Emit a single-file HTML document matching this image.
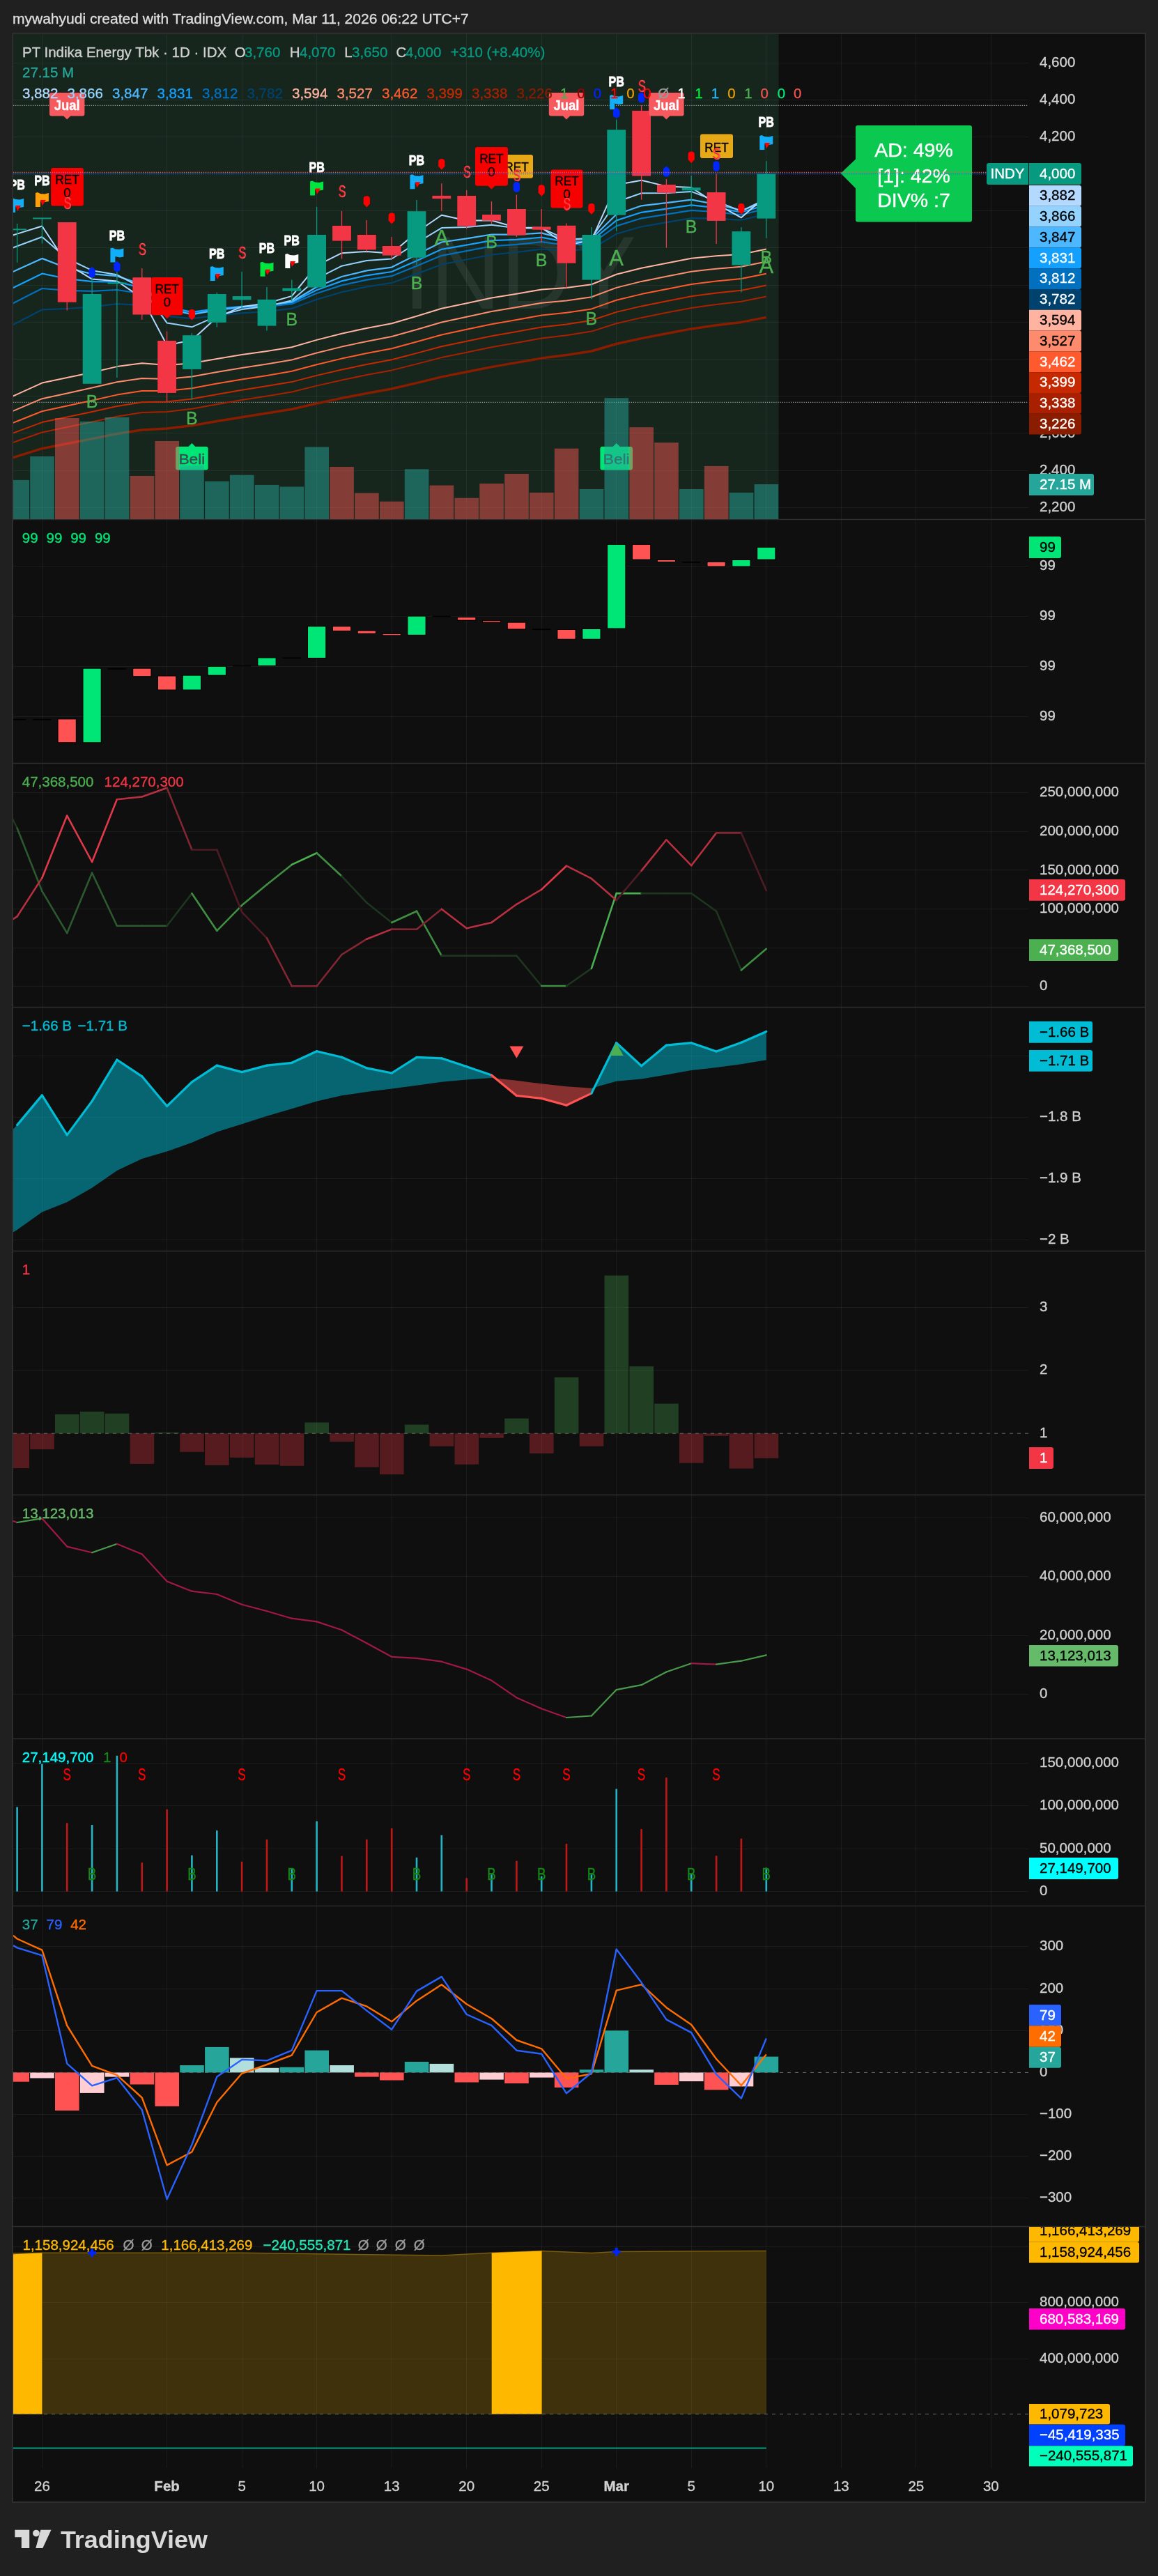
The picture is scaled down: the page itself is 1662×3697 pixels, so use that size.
<!DOCTYPE html>
<html><head><meta charset="utf-8"><style>html,body{margin:0;padding:0;background:#202020;width:1662px;height:3697px;overflow:hidden}</style></head>
<body><svg width="1662" height="3697" viewBox="0 0 1662 3697" style="position:absolute;left:0;top:0;will-change:transform" font-family='"Liberation Sans", sans-serif'><rect x="0.0" y="0.0" width="1662.0" height="3697.0" fill="#202020" />
<rect x="17.0" y="47.0" width="1628.0" height="3545.0" fill="#2e2e2e" />
<rect x="19.0" y="49.0" width="1624.0" height="3541.0" fill="#0f0f0f" />
<rect x="19.0" y="49.0" width="1098.7" height="696.0" fill="#16261d" />
<line x1="60.5" y1="49.0" x2="60.5" y2="3542.0" stroke="#ffffff" stroke-opacity="0.055" stroke-width="1" />
<line x1="239.5" y1="49.0" x2="239.5" y2="3542.0" stroke="#ffffff" stroke-opacity="0.055" stroke-width="1" />
<line x1="347.5" y1="49.0" x2="347.5" y2="3542.0" stroke="#ffffff" stroke-opacity="0.055" stroke-width="1" />
<line x1="454.5" y1="49.0" x2="454.5" y2="3542.0" stroke="#ffffff" stroke-opacity="0.055" stroke-width="1" />
<line x1="562.5" y1="49.0" x2="562.5" y2="3542.0" stroke="#ffffff" stroke-opacity="0.055" stroke-width="1" />
<line x1="669.5" y1="49.0" x2="669.5" y2="3542.0" stroke="#ffffff" stroke-opacity="0.055" stroke-width="1" />
<line x1="777.5" y1="49.0" x2="777.5" y2="3542.0" stroke="#ffffff" stroke-opacity="0.055" stroke-width="1" />
<line x1="884.5" y1="49.0" x2="884.5" y2="3542.0" stroke="#ffffff" stroke-opacity="0.055" stroke-width="1" />
<line x1="992.5" y1="49.0" x2="992.5" y2="3542.0" stroke="#ffffff" stroke-opacity="0.055" stroke-width="1" />
<line x1="1099.5" y1="49.0" x2="1099.5" y2="3542.0" stroke="#ffffff" stroke-opacity="0.055" stroke-width="1" />
<line x1="1207.5" y1="49.0" x2="1207.5" y2="3542.0" stroke="#ffffff" stroke-opacity="0.055" stroke-width="1" />
<line x1="1314.5" y1="49.0" x2="1314.5" y2="3542.0" stroke="#ffffff" stroke-opacity="0.055" stroke-width="1" />
<line x1="1422.5" y1="49.0" x2="1422.5" y2="3542.0" stroke="#ffffff" stroke-opacity="0.055" stroke-width="1" />
<line x1="19.0" y1="90.5" x2="1476.0" y2="90.5" stroke="#ffffff" stroke-opacity="0.055" stroke-width="1" />
<line x1="19.0" y1="143.5" x2="1476.0" y2="143.5" stroke="#ffffff" stroke-opacity="0.055" stroke-width="1" />
<line x1="19.0" y1="196.5" x2="1476.0" y2="196.5" stroke="#ffffff" stroke-opacity="0.055" stroke-width="1" />
<line x1="19.0" y1="249.5" x2="1476.0" y2="249.5" stroke="#ffffff" stroke-opacity="0.055" stroke-width="1" />
<line x1="19.0" y1="302.5" x2="1476.0" y2="302.5" stroke="#ffffff" stroke-opacity="0.055" stroke-width="1" />
<line x1="19.0" y1="355.5" x2="1476.0" y2="355.5" stroke="#ffffff" stroke-opacity="0.055" stroke-width="1" />
<line x1="19.0" y1="409.5" x2="1476.0" y2="409.5" stroke="#ffffff" stroke-opacity="0.055" stroke-width="1" />
<line x1="19.0" y1="462.5" x2="1476.0" y2="462.5" stroke="#ffffff" stroke-opacity="0.055" stroke-width="1" />
<line x1="19.0" y1="515.5" x2="1476.0" y2="515.5" stroke="#ffffff" stroke-opacity="0.055" stroke-width="1" />
<line x1="19.0" y1="568.5" x2="1476.0" y2="568.5" stroke="#ffffff" stroke-opacity="0.055" stroke-width="1" />
<line x1="19.0" y1="621.5" x2="1476.0" y2="621.5" stroke="#ffffff" stroke-opacity="0.055" stroke-width="1" />
<line x1="19.0" y1="675.5" x2="1476.0" y2="675.5" stroke="#ffffff" stroke-opacity="0.055" stroke-width="1" />
<line x1="19.0" y1="728.5" x2="1476.0" y2="728.5" stroke="#ffffff" stroke-opacity="0.055" stroke-width="1" />
<line x1="19.0" y1="812.5" x2="1476.0" y2="812.5" stroke="#ffffff" stroke-opacity="0.055" stroke-width="1" />
<line x1="19.0" y1="884.5" x2="1476.0" y2="884.5" stroke="#ffffff" stroke-opacity="0.055" stroke-width="1" />
<line x1="19.0" y1="956.5" x2="1476.0" y2="956.5" stroke="#ffffff" stroke-opacity="0.055" stroke-width="1" />
<line x1="19.0" y1="1028.5" x2="1476.0" y2="1028.5" stroke="#ffffff" stroke-opacity="0.055" stroke-width="1" />
<line x1="19.0" y1="1137.5" x2="1476.0" y2="1137.5" stroke="#ffffff" stroke-opacity="0.055" stroke-width="1" />
<line x1="19.0" y1="1193.5" x2="1476.0" y2="1193.5" stroke="#ffffff" stroke-opacity="0.055" stroke-width="1" />
<line x1="19.0" y1="1248.5" x2="1476.0" y2="1248.5" stroke="#ffffff" stroke-opacity="0.055" stroke-width="1" />
<line x1="19.0" y1="1304.5" x2="1476.0" y2="1304.5" stroke="#ffffff" stroke-opacity="0.055" stroke-width="1" />
<line x1="19.0" y1="1360.5" x2="1476.0" y2="1360.5" stroke="#ffffff" stroke-opacity="0.055" stroke-width="1" />
<line x1="19.0" y1="1415.5" x2="1476.0" y2="1415.5" stroke="#ffffff" stroke-opacity="0.055" stroke-width="1" />
<line x1="19.0" y1="1515.5" x2="1476.0" y2="1515.5" stroke="#ffffff" stroke-opacity="0.055" stroke-width="1" />
<line x1="19.0" y1="1603.5" x2="1476.0" y2="1603.5" stroke="#ffffff" stroke-opacity="0.055" stroke-width="1" />
<line x1="19.0" y1="1691.5" x2="1476.0" y2="1691.5" stroke="#ffffff" stroke-opacity="0.055" stroke-width="1" />
<line x1="19.0" y1="1779.5" x2="1476.0" y2="1779.5" stroke="#ffffff" stroke-opacity="0.055" stroke-width="1" />
<line x1="19.0" y1="1876.5" x2="1476.0" y2="1876.5" stroke="#ffffff" stroke-opacity="0.055" stroke-width="1" />
<line x1="19.0" y1="1966.5" x2="1476.0" y2="1966.5" stroke="#ffffff" stroke-opacity="0.055" stroke-width="1" />
<line x1="19.0" y1="2178.5" x2="1476.0" y2="2178.5" stroke="#ffffff" stroke-opacity="0.055" stroke-width="1" />
<line x1="19.0" y1="2262.5" x2="1476.0" y2="2262.5" stroke="#ffffff" stroke-opacity="0.055" stroke-width="1" />
<line x1="19.0" y1="2347.5" x2="1476.0" y2="2347.5" stroke="#ffffff" stroke-opacity="0.055" stroke-width="1" />
<line x1="19.0" y1="2431.5" x2="1476.0" y2="2431.5" stroke="#ffffff" stroke-opacity="0.055" stroke-width="1" />
<line x1="19.0" y1="2530.5" x2="1476.0" y2="2530.5" stroke="#ffffff" stroke-opacity="0.055" stroke-width="1" />
<line x1="19.0" y1="2591.5" x2="1476.0" y2="2591.5" stroke="#ffffff" stroke-opacity="0.055" stroke-width="1" />
<line x1="19.0" y1="2653.5" x2="1476.0" y2="2653.5" stroke="#ffffff" stroke-opacity="0.055" stroke-width="1" />
<line x1="19.0" y1="2714.5" x2="1476.0" y2="2714.5" stroke="#ffffff" stroke-opacity="0.055" stroke-width="1" />
<line x1="19.0" y1="2793.5" x2="1476.0" y2="2793.5" stroke="#ffffff" stroke-opacity="0.055" stroke-width="1" />
<line x1="19.0" y1="2854.5" x2="1476.0" y2="2854.5" stroke="#ffffff" stroke-opacity="0.055" stroke-width="1" />
<line x1="19.0" y1="2914.5" x2="1476.0" y2="2914.5" stroke="#ffffff" stroke-opacity="0.055" stroke-width="1" />
<line x1="19.0" y1="3034.5" x2="1476.0" y2="3034.5" stroke="#ffffff" stroke-opacity="0.055" stroke-width="1" />
<line x1="19.0" y1="3094.5" x2="1476.0" y2="3094.5" stroke="#ffffff" stroke-opacity="0.055" stroke-width="1" />
<line x1="19.0" y1="3154.5" x2="1476.0" y2="3154.5" stroke="#ffffff" stroke-opacity="0.055" stroke-width="1" />
<line x1="19.0" y1="3224.5" x2="1476.0" y2="3224.5" stroke="#ffffff" stroke-opacity="0.055" stroke-width="1" />
<line x1="19.0" y1="3304.5" x2="1476.0" y2="3304.5" stroke="#ffffff" stroke-opacity="0.055" stroke-width="1" />
<line x1="19.0" y1="3385.5" x2="1476.0" y2="3385.5" stroke="#ffffff" stroke-opacity="0.055" stroke-width="1" />
<line x1="19.0" y1="745.5" x2="1643.0" y2="745.5" stroke="#2e2e2e" stroke-width="1.3" />
<line x1="19.0" y1="1095.5" x2="1643.0" y2="1095.5" stroke="#2e2e2e" stroke-width="1.3" />
<line x1="19.0" y1="1445.5" x2="1643.0" y2="1445.5" stroke="#2e2e2e" stroke-width="1.3" />
<line x1="19.0" y1="1795.5" x2="1643.0" y2="1795.5" stroke="#2e2e2e" stroke-width="1.3" />
<line x1="19.0" y1="2145.5" x2="1643.0" y2="2145.5" stroke="#2e2e2e" stroke-width="1.3" />
<line x1="19.0" y1="2495.5" x2="1643.0" y2="2495.5" stroke="#2e2e2e" stroke-width="1.3" />
<line x1="19.0" y1="2735.3" x2="1643.0" y2="2735.3" stroke="#2e2e2e" stroke-width="1.3" />
<line x1="19.0" y1="3195.5" x2="1643.0" y2="3195.5" stroke="#2e2e2e" stroke-width="1.3" />
<text x="18.0" y="33.7" fill="#dedede" font-size="21" text-anchor="start" font-weight="normal" stroke="#dedede" stroke-width="0.35" >mywahyudi created with TradingView.com, Mar 11, 2026 06:22 UTC+7</text>
<defs><clipPath id="cmain"><rect x="19" y="49" width="1457" height="696"/></clipPath></defs>
<g clip-path="url(#cmain)">
<text x="579" y="442.8" fill="#ffffff" fill-opacity="0.075" font-size="148" textLength="334" lengthAdjust="spacingAndGlyphs">INDY</text>
<line x1="19.0" y1="151.4" x2="1476.0" y2="151.4" stroke="#9a9a9a" stroke-width="1.3" stroke-dasharray="1.3 1.8"/>
<line x1="19.0" y1="577.4" x2="1476.0" y2="577.4" stroke="#9a9a9a" stroke-width="1.3" stroke-dasharray="1.3 1.8"/>
<polyline points="-11.3,666.1 24.6,654.9 60.4,643.7 96.2,636.8 132.1,629.8 167.9,622.5 203.8,616.9 239.6,615.1 275.4,610.7 311.3,604.5 347.1,598.7 383.0,593.1 418.8,587.3 454.6,579.1 490.5,571.4 526.3,564.5 562.2,558.0 598.0,549.6 633.8,540.9 669.7,533.8 705.5,526.6 741.4,520.4 777.2,514.1 813.0,509.6 848.9,504.0 884.7,493.5 920.6,485.6 956.4,478.7 992.2,471.9 1028.1,466.8 1063.9,462.4 1099.8,455.4" fill="none" stroke="#8a1c00" stroke-width="3.5" stroke-linejoin="round" />
<polyline points="-11.3,645.5 24.6,633.0 60.4,620.5 96.2,613.1 132.1,605.6 167.9,597.8 203.8,592.1 239.6,591.0 275.4,586.7 311.3,580.2 347.1,574.1 383.0,568.5 418.8,562.5 454.6,553.6 490.5,545.5 526.3,538.1 562.2,531.4 598.0,522.4 633.8,513.1 669.7,505.7 705.5,498.2 741.4,491.9 777.2,485.5 813.0,481.2 848.9,475.6 884.7,464.2 920.6,455.9 956.4,448.8 992.2,441.9 1028.1,436.9 1063.9,432.8 1099.8,425.6" fill="none" stroke="#a82000" stroke-width="2" stroke-linejoin="round" />
<polyline points="-11.3,632.7 24.6,619.4 60.4,606.1 96.2,598.5 132.1,590.9 167.9,582.9 203.8,577.2 239.6,576.6 275.4,572.4 311.3,565.9 347.1,559.8 383.0,554.1 418.8,548.1 454.6,538.9 490.5,530.5 526.3,523.0 562.2,516.2 598.0,506.9 633.8,497.2 669.7,489.7 705.5,482.2 741.4,475.9 777.2,469.4 813.0,465.4 848.9,459.8 884.7,447.9 920.6,439.4 956.4,432.3 992.2,425.3 1028.1,420.5 1063.9,416.7 1099.8,409.4" fill="none" stroke="#c62800" stroke-width="2" stroke-linejoin="round" />
<polyline points="-11.3,618.6 24.6,604.5 60.4,590.3 96.2,582.6 132.1,574.8 167.9,566.6 203.8,561.0 239.6,561.1 275.4,557.2 311.3,550.6 347.1,544.5 383.0,538.9 418.8,532.8 454.6,523.3 490.5,514.6 526.3,507.0 562.2,500.2 598.0,490.5 633.8,480.5 669.7,472.8 705.5,465.2 741.4,458.9 777.2,452.5 813.0,448.8 848.9,443.4 884.7,430.8 920.6,422.1 956.4,415.0 992.2,408.0 1028.1,403.5 1063.9,400.0 1099.8,392.7" fill="none" stroke="#ff5a2e" stroke-width="2" stroke-linejoin="round" />
<polyline points="-11.3,602.6 24.6,587.4 60.4,572.2 96.2,564.5 132.1,556.6 167.9,548.2 203.8,542.9 239.6,544.0 275.4,540.5 311.3,534.0 347.1,527.9 383.0,522.5 418.8,516.5 454.6,506.5 490.5,497.6 526.3,489.9 562.2,483.0 598.0,473.0 633.8,462.5 669.7,454.8 705.5,447.1 741.4,441.0 777.2,434.7 813.0,431.5 848.9,426.2 884.7,412.9 920.6,403.9 956.4,396.8 992.2,389.8 1028.1,385.7 1063.9,382.8 1099.8,375.4" fill="none" stroke="#ff8b6e" stroke-width="2" stroke-linejoin="round" />
<polyline points="-11.3,582.2 24.6,565.9 60.4,549.6 96.2,542.1 132.1,534.4 167.9,526.1 203.8,521.3 239.6,524.0 275.4,521.3 311.3,514.9 347.1,509.1 383.0,504.0 418.8,498.2 454.6,487.9 490.5,478.7 526.3,470.9 562.2,464.2 598.0,453.8 633.8,442.8 669.7,435.2 705.5,427.5 741.4,421.7 777.2,415.5 813.0,413.1 848.9,408.2 884.7,393.8 920.6,384.7 956.4,377.7 992.2,370.8 1028.1,367.3 1063.9,365.0 1099.8,357.5" fill="none" stroke="#ffb3a0" stroke-width="2" stroke-linejoin="round" />
<polyline points="-11.3,481.8 24.6,463.1 60.4,444.4 96.2,443.0 132.1,440.4 167.9,436.2 203.8,438.1 239.6,453.8 275.4,457.2 311.3,452.8 347.1,449.4 383.0,447.0 418.8,442.9 454.6,429.7 490.5,419.2 526.3,411.6 562.2,406.0 598.0,393.1 633.8,379.5 669.7,372.5 705.5,365.5 741.4,362.0 777.2,357.5 813.0,360.0 848.9,357.2 884.7,335.7 920.6,325.3 956.4,319.2 992.2,313.1 1028.1,313.5 1063.9,315.8 1099.8,307.5" fill="none" stroke="#00426e" stroke-width="2.2" stroke-linejoin="round" />
<polyline points="-11.3,450.6 24.6,432.3 60.4,414.0 96.2,416.9 132.1,417.8 167.9,416.0 203.8,421.5 239.6,443.4 275.4,449.1 311.3,445.0 347.1,442.0 383.0,440.2 418.8,436.2 454.6,421.0 490.5,409.4 526.3,401.6 562.2,396.2 598.0,381.8 633.8,366.8 669.7,360.2 705.5,353.4 741.4,350.9 777.2,347.2 813.0,351.8 848.9,349.6 884.7,324.4 920.6,313.3 956.4,307.6 992.2,301.9 1028.1,304.1 1063.9,308.4 1099.8,299.3" fill="none" stroke="#0070bf" stroke-width="2.2" stroke-linejoin="round" />
<polyline points="-11.3,427.9 24.6,410.3 60.4,392.7 96.2,400.0 132.1,404.1 167.9,404.5 203.8,413.1 239.6,440.4 275.4,447.8 311.3,443.2 347.1,439.9 383.0,438.2 418.8,433.9 454.6,416.3 490.5,403.4 526.3,395.3 562.2,390.0 598.0,374.2 633.8,357.8 669.7,351.7 705.5,345.2 741.4,343.8 777.2,340.7 813.0,347.3 848.9,345.5 884.7,316.4 920.6,304.8 956.4,299.6 992.2,294.3 1028.1,298.3 1063.9,304.4 1099.8,294.5" fill="none" stroke="#14a0ff" stroke-width="2.2" stroke-linejoin="round" />
<polyline points="-11.3,403.8 24.6,387.3 60.4,370.9 96.2,384.7 132.1,393.1 167.9,396.1 203.8,408.4 239.6,442.9 275.4,451.3 311.3,444.9 347.1,440.5 383.0,438.3 418.8,433.0 454.6,411.7 490.5,397.0 526.3,388.4 562.2,383.6 598.0,365.6 633.8,347.5 669.7,342.3 705.5,336.5 741.4,336.7 777.2,334.4 813.0,344.0 848.9,342.5 884.7,307.7 920.6,295.3 956.4,291.1 992.2,286.6 1028.1,293.1 1063.9,301.8 1099.8,290.2" fill="none" stroke="#4db8ff" stroke-width="2.2" stroke-linejoin="round" />
<polyline points="-11.3,366.6 24.6,353.3 60.4,340.0 96.2,371.0 132.1,388.2 167.9,394.3 203.8,413.4 239.6,463.4 275.4,469.3 311.3,453.6 347.1,444.1 383.0,439.6 418.8,431.2 454.6,399.9 490.5,381.7 526.3,374.0 562.2,371.5 598.0,348.6 633.8,327.1 669.7,326.1 705.5,322.7 741.4,327.6 777.2,327.3 813.0,343.9 848.9,341.7 884.7,289.7 920.6,277.2 956.4,276.9 992.2,274.9 1028.1,288.6 1063.9,303.1 1099.8,285.2" fill="none" stroke="#95d3ff" stroke-width="2" stroke-linejoin="round" />
<polyline points="-11.3,346.7 24.6,335.6 60.4,324.5 96.2,378.8 132.1,400.6 167.9,403.5 203.8,427.6 239.6,495.5 275.4,488.2 311.3,455.3 347.1,440.2 383.0,435.3 418.8,424.9 454.6,381.1 490.5,363.2 526.3,360.9 562.2,363.7 598.0,333.3 633.8,308.7 669.7,316.4 705.5,316.2 741.4,326.8 777.2,326.7 813.0,352.0 848.9,344.7 884.7,265.2 920.6,258.7 956.4,267.4 992.2,269.1 1028.1,292.6 1063.9,312.3 1099.8,280.9" fill="none" stroke="#b3d9ff" stroke-width="2" stroke-linejoin="round" />
<line x1="24.6" y1="321.0" x2="24.6" y2="376.8" stroke="#089981" stroke-width="1.3" />
<rect x="11.2" y="328.3" width="26.8" height="2.0" fill="#089981" />
<line x1="60.4" y1="313.4" x2="60.4" y2="349.5" stroke="#089981" stroke-width="1.3" />
<rect x="47.0" y="312.4" width="26.8" height="2.0" fill="#089981" />
<line x1="96.2" y1="319.0" x2="96.2" y2="445.6" stroke="#f23645" stroke-width="1.3" />
<rect x="82.8" y="319.0" width="26.8" height="114.7" fill="#f23645" />
<line x1="132.1" y1="397.0" x2="132.1" y2="550.8" stroke="#089981" stroke-width="1.3" />
<rect x="118.7" y="422.0" width="26.8" height="128.8" fill="#089981" />
<line x1="167.9" y1="390.0" x2="167.9" y2="542.0" stroke="#089981" stroke-width="1.3" />
<rect x="154.5" y="405.5" width="26.8" height="2.0" fill="#089981" />
<line x1="203.8" y1="385.1" x2="203.8" y2="458.7" stroke="#f23645" stroke-width="1.3" />
<rect x="190.4" y="398.2" width="26.8" height="53.3" fill="#f23645" />
<line x1="239.6" y1="475.5" x2="239.6" y2="576.2" stroke="#f23645" stroke-width="1.3" />
<rect x="226.2" y="489.0" width="26.8" height="74.9" fill="#f23645" />
<line x1="275.4" y1="477.9" x2="275.4" y2="573.8" stroke="#089981" stroke-width="1.3" />
<rect x="262.0" y="481.2" width="26.8" height="48.7" fill="#089981" />
<line x1="311.3" y1="419.7" x2="311.3" y2="469.5" stroke="#089981" stroke-width="1.3" />
<rect x="297.9" y="422.0" width="26.8" height="40.9" fill="#089981" />
<line x1="347.1" y1="390.0" x2="347.1" y2="443.4" stroke="#089981" stroke-width="1.3" />
<rect x="333.7" y="425.1" width="26.8" height="5.3" fill="#089981" />
<line x1="383.0" y1="412.0" x2="383.0" y2="474.4" stroke="#089981" stroke-width="1.3" />
<rect x="369.6" y="429.9" width="26.8" height="37.7" fill="#089981" />
<line x1="418.8" y1="401.4" x2="418.8" y2="432.2" stroke="#089981" stroke-width="1.3" />
<rect x="405.4" y="413.5" width="26.8" height="4.2" fill="#089981" />
<line x1="454.6" y1="296.9" x2="454.6" y2="412.5" stroke="#089981" stroke-width="1.3" />
<rect x="441.2" y="337.0" width="26.8" height="75.5" fill="#089981" />
<line x1="490.5" y1="302.8" x2="490.5" y2="371.5" stroke="#f23645" stroke-width="1.3" />
<rect x="477.1" y="324.0" width="26.8" height="21.6" fill="#f23645" />
<line x1="526.3" y1="315.9" x2="526.3" y2="361.0" stroke="#f23645" stroke-width="1.3" />
<rect x="512.9" y="337.0" width="26.8" height="21.4" fill="#f23645" />
<line x1="562.2" y1="340.0" x2="562.2" y2="372.0" stroke="#f23645" stroke-width="1.3" />
<rect x="548.8" y="353.0" width="26.8" height="13.6" fill="#f23645" />
<line x1="598.0" y1="287.0" x2="598.0" y2="379.9" stroke="#089981" stroke-width="1.3" />
<rect x="584.6" y="303.2" width="26.8" height="66.5" fill="#089981" />
<line x1="633.8" y1="263.3" x2="633.8" y2="302.7" stroke="#f23645" stroke-width="1.3" />
<rect x="620.4" y="280.9" width="26.8" height="4.2" fill="#f23645" />
<line x1="669.7" y1="273.0" x2="669.7" y2="328.6" stroke="#f23645" stroke-width="1.3" />
<rect x="656.3" y="281.0" width="26.8" height="43.5" fill="#f23645" />
<line x1="705.5" y1="289.0" x2="705.5" y2="321.0" stroke="#f23645" stroke-width="1.3" />
<rect x="692.1" y="308.0" width="26.8" height="8.7" fill="#f23645" />
<line x1="741.4" y1="279.4" x2="741.4" y2="340.0" stroke="#f23645" stroke-width="1.3" />
<rect x="728.0" y="300.0" width="26.8" height="37.6" fill="#f23645" />
<line x1="777.2" y1="300.0" x2="777.2" y2="347.6" stroke="#f23645" stroke-width="1.3" />
<rect x="763.8" y="325.5" width="26.8" height="4.2" fill="#f23645" />
<line x1="813.0" y1="320.5" x2="813.0" y2="413.2" stroke="#f23645" stroke-width="1.3" />
<rect x="799.6" y="323.8" width="26.8" height="53.9" fill="#f23645" />
<line x1="848.9" y1="326.0" x2="848.9" y2="429.2" stroke="#089981" stroke-width="1.3" />
<rect x="835.5" y="337.0" width="26.8" height="64.6" fill="#089981" />
<line x1="884.7" y1="171.8" x2="884.7" y2="331.5" stroke="#089981" stroke-width="1.3" />
<rect x="871.3" y="186.2" width="26.8" height="122.4" fill="#089981" />
<line x1="920.6" y1="151.0" x2="920.6" y2="286.5" stroke="#f23645" stroke-width="1.3" />
<rect x="907.2" y="158.9" width="26.8" height="93.6" fill="#f23645" />
<line x1="956.4" y1="257.0" x2="956.4" y2="355.6" stroke="#f23645" stroke-width="1.3" />
<rect x="943.0" y="265.0" width="26.8" height="11.8" fill="#f23645" />
<line x1="992.2" y1="252.0" x2="992.2" y2="296.7" stroke="#089981" stroke-width="1.3" />
<rect x="978.8" y="269.2" width="26.8" height="4.2" fill="#089981" />
<line x1="1028.1" y1="249.2" x2="1028.1" y2="350.0" stroke="#f23645" stroke-width="1.3" />
<rect x="1014.7" y="276.0" width="26.8" height="40.9" fill="#f23645" />
<line x1="1063.9" y1="326.0" x2="1063.9" y2="419.6" stroke="#089981" stroke-width="1.3" />
<rect x="1050.5" y="332.1" width="26.8" height="48.4" fill="#089981" />
<line x1="1099.8" y1="231.3" x2="1099.8" y2="341.8" stroke="#089981" stroke-width="1.3" />
<rect x="1086.4" y="249.2" width="26.8" height="64.4" fill="#089981" />
<text x="132.1" y="585.2" fill="#4caf50" font-size="25" text-anchor="middle" font-weight="normal" stroke="#4caf50" stroke-width="0.35" >B</text>
<text x="275.4" y="609.0" fill="#4caf50" font-size="25" text-anchor="middle" font-weight="normal" stroke="#4caf50" stroke-width="0.35" >B</text>
<text x="418.8" y="467.2" fill="#4caf50" font-size="25" text-anchor="middle" font-weight="normal" stroke="#4caf50" stroke-width="0.35" >B</text>
<text x="598.0" y="414.8" fill="#4caf50" font-size="25" text-anchor="middle" font-weight="normal" stroke="#4caf50" stroke-width="0.35" >B</text>
<text x="705.5" y="356.1" fill="#4caf50" font-size="25" text-anchor="middle" font-weight="normal" stroke="#4caf50" stroke-width="0.35" >B</text>
<text x="777.2" y="382.2" fill="#4caf50" font-size="25" text-anchor="middle" font-weight="normal" stroke="#4caf50" stroke-width="0.35" >B</text>
<text x="848.9" y="465.5" fill="#4caf50" font-size="25" text-anchor="middle" font-weight="normal" stroke="#4caf50" stroke-width="0.35" >B</text>
<text x="992.2" y="333.5" fill="#4caf50" font-size="25" text-anchor="middle" font-weight="normal" stroke="#4caf50" stroke-width="0.35" >B</text>
<text x="1099.8" y="377.7" fill="#4caf50" font-size="25" text-anchor="middle" font-weight="normal" stroke="#4caf50" stroke-width="0.35" >B</text>
<text x="633.8" y="352.3" fill="#4caf50" font-size="31" text-anchor="middle" font-weight="normal" stroke="#4caf50" stroke-width="0.35" >A</text>
<text x="884.7" y="381.3" fill="#4caf50" font-size="31" text-anchor="middle" font-weight="normal" stroke="#4caf50" stroke-width="0.35" >A</text>
<text x="1099.8" y="391.5" fill="#4caf50" font-size="31" text-anchor="middle" font-weight="normal" stroke="#4caf50" stroke-width="0.35" >A</text>
<path d="M127.3,387.2 L132.1,382.7 L136.8,387.2 V394.2 Q136.8,398.2 132.1,398.2 Q127.3,398.2 127.3,394.2 Z" fill="#0026ff"/>
<path d="M163.2,378.9 L167.9,374.4 L172.7,378.9 V385.8 Q172.7,389.8 167.9,389.8 Q163.2,389.8 163.2,385.8 Z" fill="#0026ff"/>
<path d="M270.8,448.2 Q270.8,444.0 275.4,444.0 Q280.0,444.0 280.0,448.2 V454.4 L275.4,459.4 L270.8,454.4 Z" fill="#ff0000"/>
<path d="M521.7,285.4 Q521.7,281.2 526.3,281.2 Q530.9,281.2 530.9,285.4 V292.4 L526.3,297.4 L521.7,292.4 Z" fill="#ff0000"/>
<path d="M557.6,309.7 Q557.6,305.5 562.2,305.5 Q566.8,305.5 566.8,309.7 V316.5 L562.2,321.5 L557.6,316.5 Z" fill="#ff0000"/>
<path d="M629.2,232.1 Q629.2,227.9 633.8,227.9 Q638.4,227.9 638.4,232.1 V238.8 L633.8,243.8 L629.2,238.8 Z" fill="#ff0000"/>
<rect x="736.8" y="261.0" width="9.2" height="14.9" rx="4.4" fill="#0026ff"/>
<path d="M772.6,269.4 Q772.6,265.2 777.2,265.2 Q781.8,265.2 781.8,269.4 V276.8 L777.2,281.8 L772.6,276.8 Z" fill="#ff0000"/>
<path d="M844.3,296.2 Q844.3,292.0 848.9,292.0 Q853.5,292.0 853.5,296.2 V302.8 L848.9,307.8 L844.3,302.8 Z" fill="#ff0000"/>
<path d="M880.0,158.4 L884.7,153.9 L889.5,158.4 V165.0 Q889.5,169.0 884.7,169.0 Q880.0,169.0 880.0,165.0 Z" fill="#0026ff"/>
<rect x="916.0" y="133.0" width="9.2" height="14.5" rx="4.4" fill="#0026ff"/>
<path d="M951.7,242.7 L956.4,238.2 L961.2,242.7 V249.4 Q961.2,253.4 956.4,253.4 Q951.7,253.4 951.7,249.4 Z" fill="#0026ff"/>
<path d="M987.6,221.6 Q987.6,217.4 992.2,217.4 Q996.8,217.4 996.8,221.6 V229.0 L992.2,234.0 L987.6,229.0 Z" fill="#ff0000"/>
<rect x="1023.5" y="231.3" width="9.2" height="14.7" rx="4.4" fill="#0026ff"/>
<path d="M1059.3,296.2 Q1059.3,292.0 1063.9,292.0 Q1068.5,292.0 1068.5,296.2 V302.8 L1063.9,307.8 L1059.3,302.8 Z" fill="#ff0000"/>
<path d="M76.1,241.0 H116.9 Q119.9,241.0 119.9,244.0 V292.6 Q119.9,295.6 116.9,295.6 H101.5 L96.5,300.6 L91.5,295.6 H76.1 Q73.1,295.6 73.1,292.6 V244.0 Q73.1,241.0 76.1,241.0 Z" fill="#f70000"/>
<path d="M220.3,398.0 H259.4 Q262.4,398.0 262.4,401.0 V449.2 Q262.4,452.2 259.4,452.2 H244.8 L239.8,457.2 L234.8,452.2 H220.3 Q217.3,452.2 217.3,449.2 V401.0 Q217.3,398.0 220.3,398.0 Z" fill="#f70000"/>
<path d="M685.0,211.3 H725.8 Q728.8,211.3 728.8,214.3 V263.4 Q728.8,266.4 725.8,266.4 H710.4 L705.4,271.4 L700.4,266.4 H685.0 Q682.0,266.4 682.0,263.4 V214.3 Q682.0,211.3 685.0,211.3 Z" fill="#f70000"/>
<path d="M793.5,243.5 H833.5 Q836.5,243.5 836.5,246.5 V295.4 Q836.5,298.4 833.5,298.4 H818.5 L813.5,303.4 L808.5,298.4 H793.5 Q790.5,298.4 790.5,295.4 V246.5 Q790.5,243.5 793.5,243.5 Z" fill="#f70000"/>
<rect x="718" y="222" width="47.0" height="33.7" rx="3" fill="#e6a817"/>
<text x="741.5" y="246.2" fill="#000000" font-size="19" text-anchor="middle" font-weight="normal" stroke="#000000" stroke-width="0.35" textLength="34.5" lengthAdjust="spacingAndGlyphs">RET</text>
<rect x="1005" y="192.6" width="47.0" height="34.5" rx="3" fill="#e6a817"/>
<text x="1028.5" y="217.6" fill="#000000" font-size="19" text-anchor="middle" font-weight="normal" stroke="#000000" stroke-width="0.35" textLength="34.5" lengthAdjust="spacingAndGlyphs">RET</text>
<path d="M685.0,211.3 H725.8 Q728.8,211.3 728.8,214.3 V263.4 Q728.8,266.4 725.8,266.4 H710.4 L705.4,271.4 L700.4,266.4 H685.0 Q682.0,266.4 682.0,263.4 V214.3 Q682.0,211.3 685.0,211.3 Z" fill="#f70000"/>
<text x="96.5" y="263.5" fill="#000000" font-size="19" text-anchor="middle" font-weight="normal" stroke="#000000" stroke-width="0.35" textLength="34.5" lengthAdjust="spacingAndGlyphs">RET</text>
<text x="96.5" y="282.5" fill="#000000" font-size="19" text-anchor="middle" font-weight="normal" stroke="#000000" stroke-width="0.35" >0</text>
<text x="239.8" y="420.5" fill="#000000" font-size="19" text-anchor="middle" font-weight="normal" stroke="#000000" stroke-width="0.35" textLength="34.5" lengthAdjust="spacingAndGlyphs">RET</text>
<text x="239.8" y="439.5" fill="#000000" font-size="19" text-anchor="middle" font-weight="normal" stroke="#000000" stroke-width="0.35" >0</text>
<text x="705.4" y="233.8" fill="#000000" font-size="19" text-anchor="middle" font-weight="normal" stroke="#000000" stroke-width="0.35" textLength="34.5" lengthAdjust="spacingAndGlyphs">RET</text>
<text x="705.4" y="252.8" fill="#000000" font-size="19" text-anchor="middle" font-weight="normal" stroke="#000000" stroke-width="0.35" >0</text>
<text x="813.5" y="266.0" fill="#000000" font-size="19" text-anchor="middle" font-weight="normal" stroke="#000000" stroke-width="0.35" textLength="34.5" lengthAdjust="spacingAndGlyphs">RET</text>
<text x="813.5" y="285.0" fill="#000000" font-size="19" text-anchor="middle" font-weight="normal" stroke="#000000" stroke-width="0.35" >0</text>
<text x="97.0" y="299.6" fill="#f7525f" font-size="23" text-anchor="middle" font-weight="normal" stroke="#f7525f" stroke-width="0.35" textLength="11" lengthAdjust="spacingAndGlyphs">S</text>
<text x="95.7" y="298.6" fill="#ff0000" font-size="22" text-anchor="middle" font-weight="normal" textLength="10" lengthAdjust="spacingAndGlyphs" fill-opacity="0.55">S</text>
<text x="204.6" y="366.0" fill="#f7525f" font-size="23" text-anchor="middle" font-weight="normal" stroke="#f7525f" stroke-width="0.35" textLength="11" lengthAdjust="spacingAndGlyphs">S</text>
<text x="203.3" y="365.0" fill="#ff0000" font-size="22" text-anchor="middle" font-weight="normal" textLength="10" lengthAdjust="spacingAndGlyphs" fill-opacity="0.55">S</text>
<text x="347.9" y="370.5" fill="#f7525f" font-size="23" text-anchor="middle" font-weight="normal" stroke="#f7525f" stroke-width="0.35" textLength="11" lengthAdjust="spacingAndGlyphs">S</text>
<text x="346.6" y="369.5" fill="#ff0000" font-size="22" text-anchor="middle" font-weight="normal" textLength="10" lengthAdjust="spacingAndGlyphs" fill-opacity="0.55">S</text>
<text x="491.3" y="283.1" fill="#f7525f" font-size="23" text-anchor="middle" font-weight="normal" stroke="#f7525f" stroke-width="0.35" textLength="11" lengthAdjust="spacingAndGlyphs">S</text>
<text x="490.0" y="282.1" fill="#ff0000" font-size="22" text-anchor="middle" font-weight="normal" textLength="10" lengthAdjust="spacingAndGlyphs" fill-opacity="0.55">S</text>
<text x="670.5" y="254.5" fill="#f7525f" font-size="23" text-anchor="middle" font-weight="normal" stroke="#f7525f" stroke-width="0.35" textLength="11" lengthAdjust="spacingAndGlyphs">S</text>
<text x="669.2" y="253.5" fill="#ff0000" font-size="22" text-anchor="middle" font-weight="normal" textLength="10" lengthAdjust="spacingAndGlyphs" fill-opacity="0.55">S</text>
<text x="742.2" y="260.4" fill="#f7525f" font-size="23" text-anchor="middle" font-weight="normal" stroke="#f7525f" stroke-width="0.35" textLength="11" lengthAdjust="spacingAndGlyphs">S</text>
<text x="740.9" y="259.4" fill="#ff0000" font-size="22" text-anchor="middle" font-weight="normal" textLength="10" lengthAdjust="spacingAndGlyphs" fill-opacity="0.55">S</text>
<text x="813.8" y="301.0" fill="#f7525f" font-size="23" text-anchor="middle" font-weight="normal" stroke="#f7525f" stroke-width="0.35" textLength="11" lengthAdjust="spacingAndGlyphs">S</text>
<text x="812.5" y="300.0" fill="#ff0000" font-size="22" text-anchor="middle" font-weight="normal" textLength="10" lengthAdjust="spacingAndGlyphs" fill-opacity="0.55">S</text>
<text x="921.4" y="131.8" fill="#f7525f" font-size="23" text-anchor="middle" font-weight="normal" stroke="#f7525f" stroke-width="0.35" textLength="11" lengthAdjust="spacingAndGlyphs">S</text>
<text x="920.1" y="130.8" fill="#ff0000" font-size="22" text-anchor="middle" font-weight="normal" textLength="10" lengthAdjust="spacingAndGlyphs" fill-opacity="0.55">S</text>
<text x="1028.9" y="229.3" fill="#f7525f" font-size="23" text-anchor="middle" font-weight="normal" stroke="#f7525f" stroke-width="0.35" textLength="11" lengthAdjust="spacingAndGlyphs">S</text>
<text x="1027.6" y="228.3" fill="#ff0000" font-size="22" text-anchor="middle" font-weight="normal" textLength="10" lengthAdjust="spacingAndGlyphs" fill-opacity="0.55">S</text>
<text x="24.6" y="272.3" fill="#ffffff" font-size="20" text-anchor="middle" font-weight="bold" stroke="#ffffff" stroke-width="0.8" textLength="22.4" lengthAdjust="spacingAndGlyphs">PB</text>
<path d="M15.1,285.0 L18.1,284.0 L22.1,286.0 L28.1,286.5 L34.1,285.0 V297.0 L28.1,298.0 L22.1,296.5 V305.0 H15.1 Z" fill="#12aef8"/>
<path d="M22.1,295.0 L30.1,295.0 L25.1,303.0 Z" fill="#ff0000"/>
<text x="60.4" y="265.6" fill="#ffffff" font-size="20" text-anchor="middle" font-weight="bold" stroke="#ffffff" stroke-width="0.8" textLength="22.4" lengthAdjust="spacingAndGlyphs">PB</text>
<path d="M50.9,276.9 L53.9,275.9 L57.9,277.9 L63.9,278.4 L69.9,276.9 V288.9 L63.9,289.9 L57.9,288.4 V296.9 H50.9 Z" fill="#ff9f0a"/>
<path d="M57.9,286.9 L65.9,286.9 L60.9,294.9 Z" fill="#ff0000"/>
<text x="167.9" y="344.7" fill="#ffffff" font-size="20" text-anchor="middle" font-weight="bold" stroke="#ffffff" stroke-width="0.8" textLength="22.4" lengthAdjust="spacingAndGlyphs">PB</text>
<path d="M158.4,356.4 L161.4,355.4 L165.4,357.4 L171.4,357.9 L177.4,356.4 V368.4 L171.4,369.4 L165.4,367.9 V376.4 H158.4 Z" fill="#12aef8"/>
<text x="311.3" y="370.8" fill="#ffffff" font-size="20" text-anchor="middle" font-weight="bold" stroke="#ffffff" stroke-width="0.8" textLength="22.4" lengthAdjust="spacingAndGlyphs">PB</text>
<path d="M301.8,383.0 L304.8,382.0 L308.8,384.0 L314.8,384.5 L320.8,383.0 V395.0 L314.8,396.0 L308.8,394.5 V403.0 H301.8 Z" fill="#12aef8"/>
<path d="M308.8,393.0 L316.8,393.0 L311.8,401.0 Z" fill="#ff0000"/>
<text x="383.0" y="363.4" fill="#ffffff" font-size="20" text-anchor="middle" font-weight="bold" stroke="#ffffff" stroke-width="0.8" textLength="22.4" lengthAdjust="spacingAndGlyphs">PB</text>
<path d="M373.5,376.7 L376.5,375.7 L380.5,377.7 L386.5,378.2 L392.5,376.7 V388.7 L386.5,389.7 L380.5,388.2 V396.7 H373.5 Z" fill="#00e640"/>
<path d="M380.5,386.7 L388.5,386.7 L383.5,394.7 Z" fill="#ff0000"/>
<text x="418.8" y="352.0" fill="#ffffff" font-size="20" text-anchor="middle" font-weight="bold" stroke="#ffffff" stroke-width="0.8" textLength="22.4" lengthAdjust="spacingAndGlyphs">PB</text>
<path d="M409.3,364.9 L412.3,363.9 L416.3,365.9 L422.3,366.4 L428.3,364.9 V376.9 L422.3,377.9 L416.3,376.4 V384.9 H409.3 Z" fill="#ffffff"/>
<path d="M416.3,374.9 L424.3,374.9 L419.3,382.9 Z" fill="#ff0000"/>
<text x="454.6" y="246.8" fill="#ffffff" font-size="20" text-anchor="middle" font-weight="bold" stroke="#ffffff" stroke-width="0.8" textLength="22.4" lengthAdjust="spacingAndGlyphs">PB</text>
<path d="M445.1,260.4 L448.1,259.4 L452.1,261.4 L458.1,261.9 L464.1,260.4 V272.4 L458.1,273.4 L452.1,271.9 V280.4 H445.1 Z" fill="#00e640"/>
<path d="M452.1,270.4 L460.1,270.4 L455.1,278.4 Z" fill="#ff0000"/>
<text x="598.0" y="237.4" fill="#ffffff" font-size="20" text-anchor="middle" font-weight="bold" stroke="#ffffff" stroke-width="0.8" textLength="22.4" lengthAdjust="spacingAndGlyphs">PB</text>
<path d="M588.5,251.2 L591.5,250.2 L595.5,252.2 L601.5,252.7 L607.5,251.2 V263.2 L601.5,264.2 L595.5,262.7 V271.2 H588.5 Z" fill="#12aef8"/>
<path d="M595.5,261.2 L603.5,261.2 L598.5,269.2 Z" fill="#ff0000"/>
<text x="884.7" y="123.5" fill="#ffffff" font-size="20" text-anchor="middle" font-weight="bold" stroke="#ffffff" stroke-width="0.8" textLength="22.4" lengthAdjust="spacingAndGlyphs">PB</text>
<path d="M875.2,137.0 L878.2,136.0 L882.2,138.0 L888.2,138.5 L894.2,137.0 V149.0 L888.2,150.0 L882.2,148.5 V157.0 H875.2 Z" fill="#12aef8"/>
<text x="1099.8" y="181.5" fill="#ffffff" font-size="20" text-anchor="middle" font-weight="bold" stroke="#ffffff" stroke-width="0.8" textLength="22.4" lengthAdjust="spacingAndGlyphs">PB</text>
<path d="M1090.3,195.0 L1093.3,194.0 L1097.3,196.0 L1103.3,196.5 L1109.3,195.0 V207.0 L1103.3,208.0 L1097.3,206.5 V215.0 H1090.3 Z" fill="#12aef8"/>
<path d="M1097.3,205.0 L1105.3,205.0 L1100.3,213.0 Z" fill="#ff0000"/>
<path d="M74.0,133.0 H118.4 Q121.4,133.0 121.4,136.0 V163.6 Q121.4,166.6 118.4,166.6 H101.2 L96.2,171.6 L91.2,166.6 H74.0 Q71.0,166.6 71.0,163.6 V136.0 Q71.0,133.0 74.0,133.0 Z" fill="#f65a5f"/>
<text x="96.2" y="157.6" fill="#ffffff" font-size="21" text-anchor="middle" font-weight="bold" stroke="#ffffff" stroke-width="0.35" textLength="37" lengthAdjust="spacingAndGlyphs">Jual</text>
<path d="M790.8,133.0 H835.2 Q838.2,133.0 838.2,136.0 V163.6 Q838.2,166.6 835.2,166.6 H818.0 L813.0,171.6 L808.0,166.6 H790.8 Q787.8,166.6 787.8,163.6 V136.0 Q787.8,133.0 790.8,133.0 Z" fill="#f65a5f"/>
<text x="813.0" y="157.6" fill="#ffffff" font-size="21" text-anchor="middle" font-weight="bold" stroke="#ffffff" stroke-width="0.35" textLength="37" lengthAdjust="spacingAndGlyphs">Jual</text>
<path d="M934.2,133.0 H978.6 Q981.6,133.0 981.6,136.0 V163.6 Q981.6,166.6 978.6,166.6 H961.4 L956.4,171.6 L951.4,166.6 H934.2 Q931.2,166.6 931.2,163.6 V136.0 Q931.2,133.0 934.2,133.0 Z" fill="#f65a5f"/>
<text x="956.4" y="157.6" fill="#ffffff" font-size="21" text-anchor="middle" font-weight="bold" stroke="#ffffff" stroke-width="0.35" textLength="37" lengthAdjust="spacingAndGlyphs">Jual</text>
<path d="M255.1,641.0 H270.4 L275.4,636.0 L280.4,641.0 H295.7 Q298.7,641.0 298.7,644.0 V671.6 Q298.7,674.6 295.7,674.6 H255.1 Q252.1,674.6 252.1,671.6 V644.0 Q252.1,641.0 255.1,641.0 Z" fill="#00e676"/>
<text x="275.4" y="665.6" fill="#3b4a55" font-size="21" text-anchor="middle" font-weight="normal" stroke="#3b4a55" stroke-width="0.35" textLength="38" lengthAdjust="spacingAndGlyphs">Beli</text>
<path d="M864.4,641.0 H879.7 L884.7,636.0 L889.7,641.0 H905.0 Q908.0,641.0 908.0,644.0 V671.6 Q908.0,674.6 905.0,674.6 H864.4 Q861.4,674.6 861.4,671.6 V644.0 Q861.4,641.0 864.4,641.0 Z" fill="#00e676"/>
<text x="884.7" y="665.6" fill="#3b4a55" font-size="21" text-anchor="middle" font-weight="normal" stroke="#3b4a55" stroke-width="0.35" textLength="38" lengthAdjust="spacingAndGlyphs">Beli</text>
<rect x="7.4" y="688.9" width="34.6" height="56.1" fill="#26a69a" fill-opacity="0.5"/>
<rect x="43.2" y="655.0" width="34.6" height="90.0" fill="#26a69a" fill-opacity="0.5"/>
<rect x="79.0" y="600.0" width="34.6" height="145.0" fill="#ef5350" fill-opacity="0.5"/>
<rect x="114.9" y="604.9" width="34.6" height="140.1" fill="#26a69a" fill-opacity="0.5"/>
<rect x="150.7" y="598.9" width="34.6" height="146.1" fill="#26a69a" fill-opacity="0.5"/>
<rect x="186.6" y="683.0" width="34.6" height="62.0" fill="#ef5350" fill-opacity="0.5"/>
<rect x="222.4" y="633.0" width="34.6" height="112.0" fill="#ef5350" fill-opacity="0.5"/>
<rect x="258.2" y="668.2" width="34.6" height="76.8" fill="#26a69a" fill-opacity="0.5"/>
<rect x="294.1" y="690.7" width="34.6" height="54.3" fill="#26a69a" fill-opacity="0.5"/>
<rect x="329.9" y="681.7" width="34.6" height="63.3" fill="#26a69a" fill-opacity="0.5"/>
<rect x="365.8" y="695.9" width="34.6" height="49.1" fill="#26a69a" fill-opacity="0.5"/>
<rect x="401.6" y="698.5" width="34.6" height="46.5" fill="#26a69a" fill-opacity="0.5"/>
<rect x="437.4" y="641.5" width="34.6" height="103.5" fill="#26a69a" fill-opacity="0.5"/>
<rect x="473.3" y="670.0" width="34.6" height="75.0" fill="#ef5350" fill-opacity="0.5"/>
<rect x="509.1" y="707.6" width="34.6" height="37.4" fill="#ef5350" fill-opacity="0.5"/>
<rect x="545.0" y="719.7" width="34.6" height="25.3" fill="#ef5350" fill-opacity="0.5"/>
<rect x="580.8" y="673.3" width="34.6" height="71.7" fill="#26a69a" fill-opacity="0.5"/>
<rect x="616.6" y="696.6" width="34.6" height="48.4" fill="#ef5350" fill-opacity="0.5"/>
<rect x="652.5" y="714.7" width="34.6" height="30.3" fill="#ef5350" fill-opacity="0.5"/>
<rect x="688.3" y="694.0" width="34.6" height="51.0" fill="#ef5350" fill-opacity="0.5"/>
<rect x="724.2" y="680.0" width="34.6" height="65.0" fill="#ef5350" fill-opacity="0.5"/>
<rect x="760.0" y="707.0" width="34.6" height="38.0" fill="#ef5350" fill-opacity="0.5"/>
<rect x="795.8" y="643.7" width="34.6" height="101.3" fill="#ef5350" fill-opacity="0.5"/>
<rect x="831.7" y="702.0" width="34.6" height="43.0" fill="#26a69a" fill-opacity="0.5"/>
<rect x="867.5" y="571.2" width="34.6" height="173.8" fill="#26a69a" fill-opacity="0.5"/>
<rect x="903.4" y="613.2" width="34.6" height="131.8" fill="#ef5350" fill-opacity="0.5"/>
<rect x="939.2" y="635.2" width="34.6" height="109.8" fill="#ef5350" fill-opacity="0.5"/>
<rect x="975.0" y="702.0" width="34.6" height="43.0" fill="#26a69a" fill-opacity="0.5"/>
<rect x="1010.9" y="668.9" width="34.6" height="76.1" fill="#ef5350" fill-opacity="0.5"/>
<rect x="1046.7" y="707.0" width="34.6" height="38.0" fill="#26a69a" fill-opacity="0.5"/>
<rect x="1082.6" y="695.0" width="34.6" height="50.0" fill="#26a69a" fill-opacity="0.5"/>
</g>
<text x="32.0" y="81.8" fill="#d0d0d0" font-size="20.5" text-anchor="start" font-weight="normal" stroke="#d0d0d0" stroke-width="0.35" >PT Indika Energy Tbk · 1D · IDX</text>
<text x="336.7" y="81.8" fill="#d0d0d0" font-size="20.5" text-anchor="start" font-weight="normal" stroke="#d0d0d0" stroke-width="0.35" >O</text>
<text x="351.0" y="81.8" fill="#089981" font-size="20.5" text-anchor="start" font-weight="normal" stroke="#089981" stroke-width="0.35" >3,760</text>
<text x="415.7" y="81.8" fill="#d0d0d0" font-size="20.5" text-anchor="start" font-weight="normal" stroke="#d0d0d0" stroke-width="0.35" >H</text>
<text x="430.0" y="81.8" fill="#089981" font-size="20.5" text-anchor="start" font-weight="normal" stroke="#089981" stroke-width="0.35" >4,070</text>
<text x="494.3" y="81.8" fill="#d0d0d0" font-size="20.5" text-anchor="start" font-weight="normal" stroke="#d0d0d0" stroke-width="0.35" >L</text>
<text x="505.0" y="81.8" fill="#089981" font-size="20.5" text-anchor="start" font-weight="normal" stroke="#089981" stroke-width="0.35" >3,650</text>
<text x="568.6" y="81.8" fill="#d0d0d0" font-size="20.5" text-anchor="start" font-weight="normal" stroke="#d0d0d0" stroke-width="0.35" >C</text>
<text x="582.0" y="81.8" fill="#089981" font-size="20.5" text-anchor="start" font-weight="normal" stroke="#089981" stroke-width="0.35" >4,000</text>
<text x="646.7" y="81.8" fill="#089981" font-size="20.5" text-anchor="start" font-weight="normal" stroke="#089981" stroke-width="0.35" >+310 (+8.40%)</text>
<text x="32.0" y="111.2" fill="#26a69a" font-size="20.5" text-anchor="start" font-weight="normal" stroke="#26a69a" stroke-width="0.35" >27.15 M</text>
<text x="32.0" y="141.2" fill="#b3d9ff" font-size="20.5" text-anchor="start" font-weight="normal" stroke="#b3d9ff" stroke-width="0.35" >3,882</text>
<text x="96.5" y="141.2" fill="#95d3ff" font-size="20.5" text-anchor="start" font-weight="normal" stroke="#95d3ff" stroke-width="0.35" >3,866</text>
<text x="161.0" y="141.2" fill="#4db8ff" font-size="20.5" text-anchor="start" font-weight="normal" stroke="#4db8ff" stroke-width="0.35" >3,847</text>
<text x="225.5" y="141.2" fill="#14a0ff" font-size="20.5" text-anchor="start" font-weight="normal" stroke="#14a0ff" stroke-width="0.35" >3,831</text>
<text x="290.0" y="141.2" fill="#0070bf" font-size="20.5" text-anchor="start" font-weight="normal" stroke="#0070bf" stroke-width="0.35" >3,812</text>
<text x="354.5" y="141.2" fill="#00426e" font-size="20.5" text-anchor="start" font-weight="normal" stroke="#00426e" stroke-width="0.35" >3,782</text>
<text x="419.0" y="141.2" fill="#ffb3a0" font-size="20.5" text-anchor="start" font-weight="normal" stroke="#ffb3a0" stroke-width="0.35" >3,594</text>
<text x="483.5" y="141.2" fill="#ff8b6e" font-size="20.5" text-anchor="start" font-weight="normal" stroke="#ff8b6e" stroke-width="0.35" >3,527</text>
<text x="548.0" y="141.2" fill="#ff5a2e" font-size="20.5" text-anchor="start" font-weight="normal" stroke="#ff5a2e" stroke-width="0.35" >3,462</text>
<text x="612.5" y="141.2" fill="#c62800" font-size="20.5" text-anchor="start" font-weight="normal" stroke="#c62800" stroke-width="0.35" >3,399</text>
<text x="677.0" y="141.2" fill="#a82000" font-size="20.5" text-anchor="start" font-weight="normal" stroke="#a82000" stroke-width="0.35" >3,338</text>
<text x="741.5" y="141.2" fill="#8a1c00" font-size="20.5" text-anchor="start" font-weight="normal" stroke="#8a1c00" stroke-width="0.35" >3,226</text>
<text x="809.7" y="141.2" fill="#4caf50" font-size="20.5" text-anchor="middle" font-weight="normal" stroke="#4caf50" stroke-width="0.35" >1</text>
<text x="834.0" y="141.2" fill="#990000" font-size="20.5" text-anchor="middle" font-weight="normal" stroke="#990000" stroke-width="0.35" >0</text>
<text x="857.5" y="141.2" fill="#0026ff" font-size="20.5" text-anchor="middle" font-weight="normal" stroke="#0026ff" stroke-width="0.35" >0</text>
<text x="881.6" y="141.2" fill="#ff0000" font-size="20.5" text-anchor="middle" font-weight="normal" stroke="#ff0000" stroke-width="0.35" >1</text>
<text x="905.0" y="141.2" fill="#e6a000" font-size="20.5" text-anchor="middle" font-weight="normal" stroke="#e6a000" stroke-width="0.35" >0</text>
<text x="929.0" y="141.2" fill="#ff0000" font-size="20.5" text-anchor="middle" font-weight="normal" stroke="#ff0000" stroke-width="0.35" >0</text>
<text x="952.3" y="141.2" fill="#9a9a9a" font-size="20.5" text-anchor="middle" font-weight="normal" stroke="#9a9a9a" stroke-width="0.35" >Ø</text>
<text x="978.0" y="141.2" fill="#ffffff" font-size="20.5" text-anchor="middle" font-weight="normal" stroke="#ffffff" stroke-width="0.35" >1</text>
<text x="1003.0" y="141.2" fill="#00e640" font-size="20.5" text-anchor="middle" font-weight="normal" stroke="#00e640" stroke-width="0.35" >1</text>
<text x="1026.5" y="141.2" fill="#29b6f6" font-size="20.5" text-anchor="middle" font-weight="normal" stroke="#29b6f6" stroke-width="0.35" >1</text>
<text x="1049.9" y="141.2" fill="#e6a000" font-size="20.5" text-anchor="middle" font-weight="normal" stroke="#e6a000" stroke-width="0.35" >0</text>
<text x="1074.0" y="141.2" fill="#4caf50" font-size="20.5" text-anchor="middle" font-weight="normal" stroke="#4caf50" stroke-width="0.35" >1</text>
<text x="1097.3" y="141.2" fill="#ef5350" font-size="20.5" text-anchor="middle" font-weight="normal" stroke="#ef5350" stroke-width="0.35" >0</text>
<text x="1121.4" y="141.2" fill="#00e676" font-size="20.5" text-anchor="middle" font-weight="normal" stroke="#00e676" stroke-width="0.35" >0</text>
<text x="1144.7" y="141.2" fill="#ef5350" font-size="20.5" text-anchor="middle" font-weight="normal" stroke="#ef5350" stroke-width="0.35" >0</text>
<path d="M1231,180 H1392 Q1395,180 1395,183 V315.6 Q1395,318.6 1392,318.6 H1231 Q1228,318.6 1228,315.6 V270.2 L1206.7,248.7 L1228,228.4 V183 Q1228,180 1231,180 Z" fill="#0bc850"/>
<text x="1311.5" y="224.6" fill="#ffffff" font-size="28.5" text-anchor="middle" font-weight="normal" stroke="#ffffff" stroke-width="0.35" >AD: 49%</text>
<text x="1311.5" y="261.6" fill="#ffffff" font-size="28.5" text-anchor="middle" font-weight="normal" stroke="#ffffff" stroke-width="0.35" >[1]: 42%</text>
<text x="1311.5" y="296.8" fill="#ffffff" font-size="28.5" text-anchor="middle" font-weight="normal" stroke="#ffffff" stroke-width="0.35" >DIV% :7</text>
<line x1="19.0" y1="247.3" x2="1476.0" y2="247.3" stroke="#f7525f" stroke-width="1.3" stroke-dasharray="1.3 1.8"/>
<line x1="19.0" y1="249.6" x2="1476.0" y2="249.6" stroke="#2962ff" stroke-width="1.3" stroke-dasharray="1.3 1.8"/>
<text x="1492.0" y="96.0" fill="#d0d0d0" font-size="20.5" text-anchor="start" font-weight="normal" stroke="#d0d0d0" stroke-width="0.35" >4,600</text>
<text x="1492.0" y="149.2" fill="#d0d0d0" font-size="20.5" text-anchor="start" font-weight="normal" stroke="#d0d0d0" stroke-width="0.35" >4,400</text>
<text x="1492.0" y="202.4" fill="#d0d0d0" font-size="20.5" text-anchor="start" font-weight="normal" stroke="#d0d0d0" stroke-width="0.35" >4,200</text>
<text x="1492.0" y="627.9" fill="#d0d0d0" font-size="20.5" text-anchor="start" font-weight="normal" stroke="#d0d0d0" stroke-width="0.35" >2,600</text>
<text x="1492.0" y="681.1" fill="#d0d0d0" font-size="20.5" text-anchor="start" font-weight="normal" stroke="#d0d0d0" stroke-width="0.35" >2,400</text>
<text x="1492.0" y="734.3" fill="#d0d0d0" font-size="20.5" text-anchor="start" font-weight="normal" stroke="#d0d0d0" stroke-width="0.35" >2,200</text>
<path d="M1419,234 H1476 V265 H1419 Q1416,265 1416,262 V237 Q1416,234 1419,234 Z" fill="#089981"/>
<text x="1446.0" y="256.0" fill="#ffffff" font-size="20.5" text-anchor="middle" font-weight="normal" stroke="#ffffff" stroke-width="0.35" >INDY</text>
<path d="M1477.0,234.0 H1549.0 Q1552.0,234.0 1552.0,237.0 V262.0 Q1552.0,265.0 1549.0,265.0 H1477.0 Z" fill="#089981"/>
<text x="1492.0" y="256.0" fill="#ffffff" font-size="20.5" text-anchor="start" font-weight="normal" stroke="#ffffff" stroke-width="0.35" >4,000</text>
<path d="M1477.0,266.0 H1549.0 Q1552.0,266.0 1552.0,269.0 V292.8 Q1552.0,295.8 1549.0,295.8 H1477.0 Z" fill="#b3d9ff"/>
<text x="1492.0" y="287.2" fill="#000" font-size="20.5" text-anchor="start" font-weight="normal" stroke="#000" stroke-width="0.35" >3,882</text>
<path d="M1477.0,295.8 H1549.0 Q1552.0,295.8 1552.0,298.8 V322.6 Q1552.0,325.6 1549.0,325.6 H1477.0 Z" fill="#95d3ff"/>
<text x="1492.0" y="317.0" fill="#000" font-size="20.5" text-anchor="start" font-weight="normal" stroke="#000" stroke-width="0.35" >3,866</text>
<path d="M1477.0,325.6 H1549.0 Q1552.0,325.6 1552.0,328.6 V352.4 Q1552.0,355.4 1549.0,355.4 H1477.0 Z" fill="#4db8ff"/>
<text x="1492.0" y="346.8" fill="#000" font-size="20.5" text-anchor="start" font-weight="normal" stroke="#000" stroke-width="0.35" >3,847</text>
<path d="M1477.0,355.4 H1549.0 Q1552.0,355.4 1552.0,358.4 V382.2 Q1552.0,385.2 1549.0,385.2 H1477.0 Z" fill="#14a0ff"/>
<text x="1492.0" y="376.6" fill="#fff" font-size="20.5" text-anchor="start" font-weight="normal" stroke="#fff" stroke-width="0.35" >3,831</text>
<path d="M1477.0,385.2 H1549.0 Q1552.0,385.2 1552.0,388.2 V412.0 Q1552.0,415.0 1549.0,415.0 H1477.0 Z" fill="#0070bf"/>
<text x="1492.0" y="406.4" fill="#fff" font-size="20.5" text-anchor="start" font-weight="normal" stroke="#fff" stroke-width="0.35" >3,812</text>
<path d="M1477.0,415.0 H1549.0 Q1552.0,415.0 1552.0,418.0 V441.8 Q1552.0,444.8 1549.0,444.8 H1477.0 Z" fill="#00426e"/>
<text x="1492.0" y="436.2" fill="#fff" font-size="20.5" text-anchor="start" font-weight="normal" stroke="#fff" stroke-width="0.35" >3,782</text>
<path d="M1477.0,444.8 H1549.0 Q1552.0,444.8 1552.0,447.8 V471.6 Q1552.0,474.6 1549.0,474.6 H1477.0 Z" fill="#ffb3a0"/>
<text x="1492.0" y="466.0" fill="#000" font-size="20.5" text-anchor="start" font-weight="normal" stroke="#000" stroke-width="0.35" >3,594</text>
<path d="M1477.0,474.6 H1549.0 Q1552.0,474.6 1552.0,477.6 V501.4 Q1552.0,504.4 1549.0,504.4 H1477.0 Z" fill="#ff8b6e"/>
<text x="1492.0" y="495.8" fill="#000" font-size="20.5" text-anchor="start" font-weight="normal" stroke="#000" stroke-width="0.35" >3,527</text>
<path d="M1477.0,504.4 H1549.0 Q1552.0,504.4 1552.0,507.4 V531.2 Q1552.0,534.2 1549.0,534.2 H1477.0 Z" fill="#ff5a2e"/>
<text x="1492.0" y="525.6" fill="#fff" font-size="20.5" text-anchor="start" font-weight="normal" stroke="#fff" stroke-width="0.35" >3,462</text>
<path d="M1477.0,534.2 H1549.0 Q1552.0,534.2 1552.0,537.2 V561.0 Q1552.0,564.0 1549.0,564.0 H1477.0 Z" fill="#c62800"/>
<text x="1492.0" y="555.4" fill="#fff" font-size="20.5" text-anchor="start" font-weight="normal" stroke="#fff" stroke-width="0.35" >3,399</text>
<path d="M1477.0,564.0 H1549.0 Q1552.0,564.0 1552.0,567.0 V590.8 Q1552.0,593.8 1549.0,593.8 H1477.0 Z" fill="#a82000"/>
<text x="1492.0" y="585.2" fill="#fff" font-size="20.5" text-anchor="start" font-weight="normal" stroke="#fff" stroke-width="0.35" >3,338</text>
<path d="M1477.0,593.8 H1549.0 Q1552.0,593.8 1552.0,596.8 V620.6 Q1552.0,623.6 1549.0,623.6 H1477.0 Z" fill="#8a1c00"/>
<text x="1492.0" y="615.0" fill="#fff" font-size="20.5" text-anchor="start" font-weight="normal" stroke="#fff" stroke-width="0.35" >3,226</text>
<path d="M1477.0,680.0 H1567.0 Q1570.0,680.0 1570.0,683.0 V708.0 Q1570.0,711.0 1567.0,711.0 H1477.0 Z" fill="#26a69a"/>
<text x="1492.0" y="701.8" fill="#ffffff" font-size="20.5" text-anchor="start" font-weight="normal" stroke="#ffffff" stroke-width="0.35" >27.15 M</text>
<defs><clipPath id="cp2"><rect x="19" y="746" width="1457" height="349"/></clipPath></defs><g clip-path="url(#cp2)">
<rect x="11.6" y="1031.9" width="26.0" height="1.6" fill="#000000" />
<rect x="47.4" y="1031.9" width="26.0" height="1.6" fill="#000000" />
<rect x="82.6" y="1031.4" width="27.2" height="34.8" fill="#000000" />
<rect x="83.6" y="1032.4" width="25.2" height="32.8" fill="#ff5252" />
<rect x="118.5" y="958.7" width="27.2" height="107.5" fill="#000000" />
<rect x="119.5" y="959.7" width="25.2" height="105.5" fill="#00e676" />
<rect x="154.9" y="959.2" width="26.0" height="1.6" fill="#000000" />
<rect x="190.2" y="958.7" width="27.2" height="12.5" fill="#000000" />
<rect x="191.2" y="959.7" width="25.2" height="10.5" fill="#ff5252" />
<rect x="226.0" y="969.6" width="27.2" height="21.0" fill="#000000" />
<rect x="227.0" y="970.6" width="25.2" height="19.0" fill="#ff5252" />
<rect x="261.8" y="968.7" width="27.2" height="21.9" fill="#000000" />
<rect x="262.8" y="969.7" width="25.2" height="19.9" fill="#00e676" />
<rect x="297.7" y="955.9" width="27.2" height="13.8" fill="#000000" />
<rect x="298.7" y="956.9" width="25.2" height="11.8" fill="#00e676" />
<rect x="334.1" y="955.0" width="26.0" height="1.6" fill="#000000" />
<rect x="369.4" y="943.5" width="27.2" height="12.5" fill="#000000" />
<rect x="370.4" y="944.5" width="25.2" height="10.5" fill="#00e676" />
<rect x="405.8" y="943.5" width="26.0" height="1.6" fill="#000000" />
<rect x="441.0" y="898.4" width="27.2" height="46.6" fill="#000000" />
<rect x="442.0" y="899.4" width="25.2" height="44.6" fill="#00e676" />
<rect x="476.9" y="898.4" width="27.2" height="7.7" fill="#000000" />
<rect x="477.9" y="899.4" width="25.2" height="5.7" fill="#ff5252" />
<rect x="512.7" y="904.6" width="27.2" height="5.3" fill="#000000" />
<rect x="513.7" y="905.6" width="25.2" height="3.3" fill="#ff5252" />
<rect x="548.6" y="908.9" width="27.2" height="3.5" fill="#000000" />
<rect x="549.6" y="909.9" width="25.2" height="1.5" fill="#ff5252" />
<rect x="584.4" y="883.8" width="27.2" height="28.1" fill="#000000" />
<rect x="585.4" y="884.8" width="25.2" height="26.1" fill="#00e676" />
<rect x="620.8" y="883.8" width="26.0" height="1.6" fill="#000000" />
<rect x="656.1" y="885.3" width="27.2" height="5.4" fill="#000000" />
<rect x="657.1" y="886.3" width="25.2" height="3.4" fill="#ff5252" />
<rect x="691.9" y="890.2" width="27.2" height="3.5" fill="#000000" />
<rect x="692.9" y="891.2" width="25.2" height="1.5" fill="#ff5252" />
<rect x="727.8" y="892.7" width="27.2" height="10.8" fill="#000000" />
<rect x="728.8" y="893.7" width="25.2" height="8.8" fill="#ff5252" />
<rect x="764.2" y="902.5" width="26.0" height="1.6" fill="#000000" />
<rect x="799.4" y="903.0" width="27.2" height="14.8" fill="#000000" />
<rect x="800.4" y="904.0" width="25.2" height="12.8" fill="#ff5252" />
<rect x="835.3" y="902.0" width="27.2" height="15.8" fill="#000000" />
<rect x="836.3" y="903.0" width="25.2" height="13.8" fill="#00e676" />
<rect x="871.1" y="780.9" width="27.2" height="121.6" fill="#000000" />
<rect x="872.1" y="781.9" width="25.2" height="119.6" fill="#00e676" />
<rect x="907.0" y="780.9" width="27.2" height="22.7" fill="#000000" />
<rect x="908.0" y="781.9" width="25.2" height="20.7" fill="#ff5252" />
<rect x="942.8" y="803.0" width="27.2" height="4.0" fill="#000000" />
<rect x="943.8" y="804.0" width="25.2" height="2.0" fill="#ff5252" />
<rect x="979.2" y="806.0" width="26.0" height="1.6" fill="#000000" />
<rect x="1014.5" y="806.0" width="27.2" height="7.5" fill="#000000" />
<rect x="1015.5" y="807.0" width="25.2" height="5.5" fill="#ff5252" />
<rect x="1050.3" y="803.0" width="27.2" height="10.5" fill="#000000" />
<rect x="1051.3" y="804.0" width="25.2" height="8.5" fill="#00e676" />
<rect x="1086.2" y="784.9" width="27.2" height="18.7" fill="#000000" />
<rect x="1087.2" y="785.9" width="25.2" height="16.7" fill="#00e676" />
</g>
<text x="31.8" y="779.2" fill="#00e676" font-size="20.5" text-anchor="start" font-weight="normal" stroke="#00e676" stroke-width="0.35" >99</text>
<text x="66.5" y="779.2" fill="#00e676" font-size="20.5" text-anchor="start" font-weight="normal" stroke="#00e676" stroke-width="0.35" >99</text>
<text x="101.2" y="779.2" fill="#00e676" font-size="20.5" text-anchor="start" font-weight="normal" stroke="#00e676" stroke-width="0.35" >99</text>
<text x="135.9" y="779.2" fill="#00e676" font-size="20.5" text-anchor="start" font-weight="normal" stroke="#00e676" stroke-width="0.35" >99</text>
<path d="M1477.0,770.0 H1520.0 Q1523.0,770.0 1523.0,773.0 V798.0 Q1523.0,801.0 1520.0,801.0 H1477.0 Z" fill="#00e676"/>
<text x="1492.0" y="791.8" fill="#000000" font-size="20.5" text-anchor="start" font-weight="normal" stroke="#000000" stroke-width="0.35" >99</text>
<text x="1492.0" y="818.0" fill="#d0d0d0" font-size="20.5" text-anchor="start" font-weight="normal" stroke="#d0d0d0" stroke-width="0.35" >99</text>
<text x="1492.0" y="890.0" fill="#d0d0d0" font-size="20.5" text-anchor="start" font-weight="normal" stroke="#d0d0d0" stroke-width="0.35" >99</text>
<text x="1492.0" y="962.0" fill="#d0d0d0" font-size="20.5" text-anchor="start" font-weight="normal" stroke="#d0d0d0" stroke-width="0.35" >99</text>
<text x="1492.0" y="1034.4" fill="#d0d0d0" font-size="20.5" text-anchor="start" font-weight="normal" stroke="#d0d0d0" stroke-width="0.35" >99</text>
<defs><clipPath id="cp3"><rect x="19" y="1096" width="1457" height="349"/></clipPath></defs><g clip-path="url(#cp3)">
<line x1="19.0" y1="1176.7" x2="24.6" y2="1188.6" stroke="#1e361f" stroke-width="2.6" stroke-linecap="round"/>
<line x1="24.6" y1="1188.6" x2="60.4" y2="1278.9" stroke="#2c5a2e" stroke-width="2.6" stroke-linecap="round"/>
<line x1="60.4" y1="1278.9" x2="96.2" y2="1339.2" stroke="#2c5a2e" stroke-width="2.6" stroke-linecap="round"/>
<line x1="96.2" y1="1339.2" x2="132.1" y2="1252.7" stroke="#2c5a2e" stroke-width="2.6" stroke-linecap="round"/>
<line x1="132.1" y1="1252.7" x2="167.9" y2="1328.7" stroke="#2c5a2e" stroke-width="2.6" stroke-linecap="round"/>
<line x1="167.9" y1="1328.7" x2="203.8" y2="1328.7" stroke="#2c5a2e" stroke-width="2.6" stroke-linecap="round"/>
<line x1="203.8" y1="1328.7" x2="239.6" y2="1328.7" stroke="#2c5a2e" stroke-width="2.6" stroke-linecap="round"/>
<line x1="239.6" y1="1328.7" x2="275.4" y2="1282.2" stroke="#1e361f" stroke-width="2.6" stroke-linecap="round"/>
<line x1="275.4" y1="1282.2" x2="311.3" y2="1335.8" stroke="#3f8f42" stroke-width="2.6" stroke-linecap="round"/>
<line x1="311.3" y1="1335.8" x2="347.1" y2="1299.3" stroke="#3f8f42" stroke-width="2.6" stroke-linecap="round"/>
<line x1="347.1" y1="1299.3" x2="383.0" y2="1269.4" stroke="#3f8f42" stroke-width="2.6" stroke-linecap="round"/>
<line x1="383.0" y1="1269.4" x2="418.8" y2="1240.9" stroke="#3f8f42" stroke-width="2.6" stroke-linecap="round"/>
<line x1="418.8" y1="1240.9" x2="454.6" y2="1224.2" stroke="#4caf50" stroke-width="2.6" stroke-linecap="round"/>
<line x1="454.6" y1="1224.2" x2="490.5" y2="1257.5" stroke="#3f8f42" stroke-width="2.6" stroke-linecap="round"/>
<line x1="490.5" y1="1257.5" x2="526.3" y2="1295.5" stroke="#1e361f" stroke-width="2.6" stroke-linecap="round"/>
<line x1="526.3" y1="1295.5" x2="562.2" y2="1324.0" stroke="#1e361f" stroke-width="2.6" stroke-linecap="round"/>
<line x1="562.2" y1="1324.0" x2="598.0" y2="1307.7" stroke="#3f8f42" stroke-width="2.6" stroke-linecap="round"/>
<line x1="598.0" y1="1307.7" x2="633.8" y2="1371.6" stroke="#3f8f42" stroke-width="2.6" stroke-linecap="round"/>
<line x1="633.8" y1="1371.6" x2="669.7" y2="1371.6" stroke="#1e361f" stroke-width="2.6" stroke-linecap="round"/>
<line x1="669.7" y1="1371.6" x2="705.5" y2="1371.6" stroke="#1e361f" stroke-width="2.6" stroke-linecap="round"/>
<line x1="705.5" y1="1371.6" x2="741.4" y2="1371.6" stroke="#1e361f" stroke-width="2.6" stroke-linecap="round"/>
<line x1="741.4" y1="1371.6" x2="777.2" y2="1415.0" stroke="#1e361f" stroke-width="2.6" stroke-linecap="round"/>
<line x1="777.2" y1="1415.0" x2="813.0" y2="1415.0" stroke="#3f8f42" stroke-width="2.6" stroke-linecap="round"/>
<line x1="813.0" y1="1415.0" x2="848.9" y2="1389.9" stroke="#1e361f" stroke-width="2.6" stroke-linecap="round"/>
<line x1="848.9" y1="1389.9" x2="884.7" y2="1282.1" stroke="#4caf50" stroke-width="2.6" stroke-linecap="round"/>
<line x1="884.7" y1="1282.1" x2="920.6" y2="1282.1" stroke="#4caf50" stroke-width="2.6" stroke-linecap="round"/>
<line x1="920.6" y1="1282.1" x2="956.4" y2="1282.1" stroke="#1e361f" stroke-width="2.6" stroke-linecap="round"/>
<line x1="956.4" y1="1282.1" x2="992.2" y2="1282.1" stroke="#1e361f" stroke-width="2.6" stroke-linecap="round"/>
<line x1="992.2" y1="1282.1" x2="1028.1" y2="1307.7" stroke="#1e361f" stroke-width="2.6" stroke-linecap="round"/>
<line x1="1028.1" y1="1307.7" x2="1063.9" y2="1392.3" stroke="#1e361f" stroke-width="2.6" stroke-linecap="round"/>
<line x1="1063.9" y1="1392.3" x2="1099.8" y2="1361.8" stroke="#3f8f42" stroke-width="2.6" stroke-linecap="round"/>
<line x1="19.0" y1="1319.0" x2="24.6" y2="1315.4" stroke="#b8303f" stroke-width="2.6" stroke-linecap="round"/>
<line x1="24.6" y1="1315.4" x2="60.4" y2="1259.9" stroke="#b8303f" stroke-width="2.6" stroke-linecap="round"/>
<line x1="60.4" y1="1259.9" x2="96.2" y2="1170.6" stroke="#e0394a" stroke-width="2.6" stroke-linecap="round"/>
<line x1="96.2" y1="1170.6" x2="132.1" y2="1237.0" stroke="#e0394a" stroke-width="2.6" stroke-linecap="round"/>
<line x1="132.1" y1="1237.0" x2="167.9" y2="1147.3" stroke="#e0394a" stroke-width="2.6" stroke-linecap="round"/>
<line x1="167.9" y1="1147.3" x2="203.8" y2="1143.5" stroke="#b8303f" stroke-width="2.6" stroke-linecap="round"/>
<line x1="203.8" y1="1143.5" x2="239.6" y2="1130.7" stroke="#b8303f" stroke-width="2.6" stroke-linecap="round"/>
<line x1="239.6" y1="1130.7" x2="275.4" y2="1219.5" stroke="#822633" stroke-width="2.6" stroke-linecap="round"/>
<line x1="275.4" y1="1219.5" x2="311.3" y2="1219.5" stroke="#4f1c24" stroke-width="2.6" stroke-linecap="round"/>
<line x1="311.3" y1="1219.5" x2="347.1" y2="1308.8" stroke="#4f1c24" stroke-width="2.6" stroke-linecap="round"/>
<line x1="347.1" y1="1308.8" x2="383.0" y2="1346.3" stroke="#4f1c24" stroke-width="2.6" stroke-linecap="round"/>
<line x1="383.0" y1="1346.3" x2="418.8" y2="1415.2" stroke="#822633" stroke-width="2.6" stroke-linecap="round"/>
<line x1="418.8" y1="1415.2" x2="454.6" y2="1415.2" stroke="#822633" stroke-width="2.6" stroke-linecap="round"/>
<line x1="454.6" y1="1415.2" x2="490.5" y2="1370.0" stroke="#822633" stroke-width="2.6" stroke-linecap="round"/>
<line x1="490.5" y1="1370.0" x2="526.3" y2="1347.7" stroke="#822633" stroke-width="2.6" stroke-linecap="round"/>
<line x1="526.3" y1="1347.7" x2="562.2" y2="1333.6" stroke="#b8303f" stroke-width="2.6" stroke-linecap="round"/>
<line x1="562.2" y1="1333.6" x2="598.0" y2="1333.7" stroke="#822633" stroke-width="2.6" stroke-linecap="round"/>
<line x1="598.0" y1="1333.7" x2="633.8" y2="1304.7" stroke="#822633" stroke-width="2.6" stroke-linecap="round"/>
<line x1="633.8" y1="1304.7" x2="669.7" y2="1332.3" stroke="#b8303f" stroke-width="2.6" stroke-linecap="round"/>
<line x1="669.7" y1="1332.3" x2="705.5" y2="1323.9" stroke="#b8303f" stroke-width="2.6" stroke-linecap="round"/>
<line x1="705.5" y1="1323.9" x2="741.4" y2="1297.8" stroke="#b8303f" stroke-width="2.6" stroke-linecap="round"/>
<line x1="741.4" y1="1297.8" x2="777.2" y2="1276.6" stroke="#b8303f" stroke-width="2.6" stroke-linecap="round"/>
<line x1="777.2" y1="1276.6" x2="813.0" y2="1242.7" stroke="#e0394a" stroke-width="2.6" stroke-linecap="round"/>
<line x1="813.0" y1="1242.7" x2="848.9" y2="1260.9" stroke="#b8303f" stroke-width="2.6" stroke-linecap="round"/>
<line x1="848.9" y1="1260.9" x2="884.7" y2="1291.9" stroke="#b8303f" stroke-width="2.6" stroke-linecap="round"/>
<line x1="884.7" y1="1291.9" x2="920.6" y2="1249.6" stroke="#4f1c24" stroke-width="2.6" stroke-linecap="round"/>
<line x1="920.6" y1="1249.6" x2="956.4" y2="1205.3" stroke="#b8303f" stroke-width="2.6" stroke-linecap="round"/>
<line x1="956.4" y1="1205.3" x2="992.2" y2="1242.2" stroke="#b8303f" stroke-width="2.6" stroke-linecap="round"/>
<line x1="992.2" y1="1242.2" x2="1028.1" y2="1195.4" stroke="#b8303f" stroke-width="2.6" stroke-linecap="round"/>
<line x1="1028.1" y1="1195.4" x2="1063.9" y2="1195.4" stroke="#822633" stroke-width="2.6" stroke-linecap="round"/>
<line x1="1063.9" y1="1195.4" x2="1099.8" y2="1278.1" stroke="#4f1c24" stroke-width="2.6" stroke-linecap="round"/>
</g>
<text x="31.8" y="1129.2" fill="#4caf50" font-size="20.5" text-anchor="start" font-weight="normal" stroke="#4caf50" stroke-width="0.35" >47,368,500</text>
<text x="149.6" y="1129.2" fill="#f23645" font-size="20.5" text-anchor="start" font-weight="normal" stroke="#f23645" stroke-width="0.35" >124,270,300</text>
<text x="1492.0" y="1143.1" fill="#d0d0d0" font-size="20.5" text-anchor="start" font-weight="normal" stroke="#d0d0d0" stroke-width="0.35" >250,000,000</text>
<text x="1492.0" y="1199.1" fill="#d0d0d0" font-size="20.5" text-anchor="start" font-weight="normal" stroke="#d0d0d0" stroke-width="0.35" >200,000,000</text>
<text x="1492.0" y="1254.6" fill="#d0d0d0" font-size="20.5" text-anchor="start" font-weight="normal" stroke="#d0d0d0" stroke-width="0.35" >150,000,000</text>
<text x="1492.0" y="1310.1" fill="#d0d0d0" font-size="20.5" text-anchor="start" font-weight="normal" stroke="#d0d0d0" stroke-width="0.35" >100,000,000</text>
<text x="1492.0" y="1421.1" fill="#d0d0d0" font-size="20.5" text-anchor="start" font-weight="normal" stroke="#d0d0d0" stroke-width="0.35" >0</text>
<path d="M1477.0,1262.0 H1612.0 Q1615.0,1262.0 1615.0,1265.0 V1289.8 Q1615.0,1292.8 1612.0,1292.8 H1477.0 Z" fill="#f23645"/>
<text x="1492.0" y="1283.7" fill="#ffffff" font-size="20.5" text-anchor="start" font-weight="normal" stroke="#ffffff" stroke-width="0.35" >124,270,300</text>
<path d="M1477.0,1348.0 H1602.0 Q1605.0,1348.0 1605.0,1351.0 V1376.0 Q1605.0,1379.0 1602.0,1379.0 H1477.0 Z" fill="#4caf50"/>
<text x="1492.0" y="1369.8" fill="#ffffff" font-size="20.5" text-anchor="start" font-weight="normal" stroke="#ffffff" stroke-width="0.35" >47,368,500</text>
<defs><clipPath id="cp4"><rect x="19" y="1446" width="1457" height="349"/></clipPath></defs><g clip-path="url(#cp4)">
<polygon points="-16.8,1657.3 24.6,1614.6 60.4,1571.9 96.2,1628.9 132.1,1580.4 167.9,1521.0 203.8,1544.8 239.6,1587.5 275.4,1552.9 311.3,1529.1 347.1,1538.6 383.0,1529.1 418.8,1525.3 454.6,1508.7 490.5,1517.2 526.3,1532.9 562.2,1540.0 598.0,1517.4 633.8,1518.8 669.7,1530.7 705.5,1543.0 705.5,1546.9 669.7,1549.4 633.8,1552.8 598.0,1557.7 562.2,1562.4 526.3,1567.1 490.5,1572.3 454.6,1580.4 418.8,1591.3 383.0,1601.8 347.1,1613.2 311.3,1624.6 275.4,1639.8 239.6,1652.6 203.8,1663.0 167.9,1680.1 132.1,1704.8 96.2,1725.3 60.4,1739.5 24.6,1765.0 -16.8,1790.5" fill="#00bcd4" fill-opacity="0.5"/>
<polygon points="848.9,1569.1 884.7,1496.7 920.6,1529.7 956.4,1500.1 992.2,1496.7 1028.1,1509.0 1063.9,1496.2 1099.8,1480.5 1099.8,1521.3 1063.9,1527.2 1028.1,1532.1 992.2,1536.1 956.4,1542.5 920.6,1548.4 884.7,1551.8 848.9,1561.7" fill="#00bcd4" fill-opacity="0.5"/>
<polygon points="705.5,1543.0 741.4,1572.5 777.2,1576.4 813.0,1586.3 848.9,1569.1 848.9,1561.7 813.0,1559.2 777.2,1555.3 741.4,1550.8 705.5,1546.9" fill="#ff5252" fill-opacity="0.5"/>
<line x1="24.6" y1="1614.6" x2="60.4" y2="1571.9" stroke="#00bcd4" stroke-width="3.2" stroke-linecap="round"/>
<line x1="60.4" y1="1571.9" x2="96.2" y2="1628.9" stroke="#00bcd4" stroke-width="3.2" stroke-linecap="round"/>
<line x1="96.2" y1="1628.9" x2="132.1" y2="1580.4" stroke="#00bcd4" stroke-width="3.2" stroke-linecap="round"/>
<line x1="132.1" y1="1580.4" x2="167.9" y2="1521.0" stroke="#00bcd4" stroke-width="3.2" stroke-linecap="round"/>
<line x1="167.9" y1="1521.0" x2="203.8" y2="1544.8" stroke="#00bcd4" stroke-width="3.2" stroke-linecap="round"/>
<line x1="203.8" y1="1544.8" x2="239.6" y2="1587.5" stroke="#00bcd4" stroke-width="3.2" stroke-linecap="round"/>
<line x1="239.6" y1="1587.5" x2="275.4" y2="1552.9" stroke="#00bcd4" stroke-width="3.2" stroke-linecap="round"/>
<line x1="275.4" y1="1552.9" x2="311.3" y2="1529.1" stroke="#00bcd4" stroke-width="3.2" stroke-linecap="round"/>
<line x1="311.3" y1="1529.1" x2="347.1" y2="1538.6" stroke="#00bcd4" stroke-width="3.2" stroke-linecap="round"/>
<line x1="347.1" y1="1538.6" x2="383.0" y2="1529.1" stroke="#00bcd4" stroke-width="3.2" stroke-linecap="round"/>
<line x1="383.0" y1="1529.1" x2="418.8" y2="1525.3" stroke="#00bcd4" stroke-width="3.2" stroke-linecap="round"/>
<line x1="418.8" y1="1525.3" x2="454.6" y2="1508.7" stroke="#00bcd4" stroke-width="3.2" stroke-linecap="round"/>
<line x1="454.6" y1="1508.7" x2="490.5" y2="1517.2" stroke="#00bcd4" stroke-width="3.2" stroke-linecap="round"/>
<line x1="490.5" y1="1517.2" x2="526.3" y2="1532.9" stroke="#00bcd4" stroke-width="3.2" stroke-linecap="round"/>
<line x1="526.3" y1="1532.9" x2="562.2" y2="1540.0" stroke="#00bcd4" stroke-width="3.2" stroke-linecap="round"/>
<line x1="562.2" y1="1540.0" x2="598.0" y2="1517.4" stroke="#00bcd4" stroke-width="3.2" stroke-linecap="round"/>
<line x1="598.0" y1="1517.4" x2="633.8" y2="1518.8" stroke="#00bcd4" stroke-width="3.2" stroke-linecap="round"/>
<line x1="633.8" y1="1518.8" x2="669.7" y2="1530.7" stroke="#00bcd4" stroke-width="3.2" stroke-linecap="round"/>
<line x1="669.7" y1="1530.7" x2="705.5" y2="1543.0" stroke="#00bcd4" stroke-width="3.2" stroke-linecap="round"/>
<line x1="705.5" y1="1543.0" x2="741.4" y2="1572.5" stroke="#ff5252" stroke-width="3.2" stroke-linecap="round"/>
<line x1="741.4" y1="1572.5" x2="777.2" y2="1576.4" stroke="#ff5252" stroke-width="3.2" stroke-linecap="round"/>
<line x1="777.2" y1="1576.4" x2="813.0" y2="1586.3" stroke="#ff5252" stroke-width="3.2" stroke-linecap="round"/>
<line x1="813.0" y1="1586.3" x2="848.9" y2="1569.1" stroke="#ff5252" stroke-width="3.2" stroke-linecap="round"/>
<line x1="848.9" y1="1569.1" x2="884.7" y2="1496.7" stroke="#00bcd4" stroke-width="3.2" stroke-linecap="round"/>
<line x1="884.7" y1="1496.7" x2="920.6" y2="1529.7" stroke="#00bcd4" stroke-width="3.2" stroke-linecap="round"/>
<line x1="920.6" y1="1529.7" x2="956.4" y2="1500.1" stroke="#00bcd4" stroke-width="3.2" stroke-linecap="round"/>
<line x1="956.4" y1="1500.1" x2="992.2" y2="1496.7" stroke="#00bcd4" stroke-width="3.2" stroke-linecap="round"/>
<line x1="992.2" y1="1496.7" x2="1028.1" y2="1509.0" stroke="#00bcd4" stroke-width="3.2" stroke-linecap="round"/>
<line x1="1028.1" y1="1509.0" x2="1063.9" y2="1496.2" stroke="#00bcd4" stroke-width="3.2" stroke-linecap="round"/>
<line x1="1063.9" y1="1496.2" x2="1099.8" y2="1480.5" stroke="#00bcd4" stroke-width="3.2" stroke-linecap="round"/>
</g>
<polygon points="731.4,1501.6 751.4,1501.6 741.4,1518.8" fill="#ff5252" />
<polygon points="884.7,1496.7 894.7,1514.9 874.7,1514.9" fill="#4caf50" />
<text x="31.8" y="1479.2" fill="#00bcd4" font-size="20.5" text-anchor="start" font-weight="normal" stroke="#00bcd4" stroke-width="0.35" >−1.66 B</text>
<text x="111.6" y="1479.2" fill="#00bcd4" font-size="20.5" text-anchor="start" font-weight="normal" stroke="#00bcd4" stroke-width="0.35" >−1.71 B</text>
<text x="1492.0" y="1609.2" fill="#d0d0d0" font-size="20.5" text-anchor="start" font-weight="normal" stroke="#d0d0d0" stroke-width="0.35" >−1.8 B</text>
<text x="1492.0" y="1697.3" fill="#d0d0d0" font-size="20.5" text-anchor="start" font-weight="normal" stroke="#d0d0d0" stroke-width="0.35" >−1.9 B</text>
<text x="1492.0" y="1785.4" fill="#d0d0d0" font-size="20.5" text-anchor="start" font-weight="normal" stroke="#d0d0d0" stroke-width="0.35" >−2 B</text>
<path d="M1477.0,1465.8 H1565.0 Q1568.0,1465.8 1568.0,1468.8 V1493.8 Q1568.0,1496.8 1565.0,1496.8 H1477.0 Z" fill="#00bcd4"/>
<text x="1492.0" y="1487.6" fill="#000000" font-size="20.5" text-anchor="start" font-weight="normal" stroke="#000000" stroke-width="0.35" >−1.66 B</text>
<path d="M1477.0,1507.0 H1565.0 Q1568.0,1507.0 1568.0,1510.0 V1534.8 Q1568.0,1537.8 1565.0,1537.8 H1477.0 Z" fill="#00bcd4"/>
<text x="1492.0" y="1528.7" fill="#000000" font-size="20.5" text-anchor="start" font-weight="normal" stroke="#000000" stroke-width="0.35" >−1.71 B</text>
<defs><clipPath id="cp5"><rect x="19" y="1796" width="1457" height="349"/></clipPath></defs><g clip-path="url(#cp5)">
<rect x="7.4" y="2057.2" width="34.6" height="49.9" fill="#f23645" fill-opacity="0.31"/>
<rect x="43.2" y="2057.2" width="34.6" height="22.8" fill="#f23645" fill-opacity="0.31"/>
<rect x="79.0" y="2029.7" width="34.6" height="27.5" fill="#4caf50" fill-opacity="0.3"/>
<rect x="114.9" y="2025.9" width="34.6" height="31.3" fill="#4caf50" fill-opacity="0.3"/>
<rect x="150.7" y="2028.7" width="34.6" height="28.5" fill="#4caf50" fill-opacity="0.3"/>
<rect x="186.6" y="2057.2" width="34.6" height="43.7" fill="#f23645" fill-opacity="0.31"/>
<rect x="222.4" y="2055.8" width="34.6" height="1.4" fill="#4caf50" fill-opacity="0.3"/>
<rect x="258.2" y="2057.2" width="34.6" height="26.6" fill="#f23645" fill-opacity="0.31"/>
<rect x="294.1" y="2057.2" width="34.6" height="45.6" fill="#f23645" fill-opacity="0.31"/>
<rect x="329.9" y="2057.2" width="34.6" height="34.7" fill="#f23645" fill-opacity="0.31"/>
<rect x="365.8" y="2057.2" width="34.6" height="44.7" fill="#f23645" fill-opacity="0.31"/>
<rect x="401.6" y="2057.2" width="34.6" height="46.6" fill="#f23645" fill-opacity="0.31"/>
<rect x="437.4" y="2041.5" width="34.6" height="15.7" fill="#4caf50" fill-opacity="0.3"/>
<rect x="473.3" y="2057.2" width="34.6" height="11.9" fill="#f23645" fill-opacity="0.31"/>
<rect x="509.1" y="2057.2" width="34.6" height="48.5" fill="#f23645" fill-opacity="0.31"/>
<rect x="545.0" y="2057.2" width="34.6" height="58.8" fill="#f23645" fill-opacity="0.31"/>
<rect x="580.8" y="2044.6" width="34.6" height="12.6" fill="#4caf50" fill-opacity="0.3"/>
<rect x="616.6" y="2057.2" width="34.6" height="18.4" fill="#f23645" fill-opacity="0.31"/>
<rect x="652.5" y="2057.2" width="34.6" height="44.5" fill="#f23645" fill-opacity="0.31"/>
<rect x="688.3" y="2057.2" width="34.6" height="6.6" fill="#f23645" fill-opacity="0.31"/>
<rect x="724.2" y="2035.7" width="34.6" height="21.5" fill="#4caf50" fill-opacity="0.3"/>
<rect x="760.0" y="2057.2" width="34.6" height="28.7" fill="#f23645" fill-opacity="0.31"/>
<rect x="795.8" y="1976.6" width="34.6" height="80.6" fill="#4caf50" fill-opacity="0.3"/>
<rect x="831.7" y="2057.2" width="34.6" height="18.4" fill="#f23645" fill-opacity="0.31"/>
<rect x="867.5" y="1830.5" width="34.6" height="226.7" fill="#4caf50" fill-opacity="0.3"/>
<rect x="903.4" y="1960.9" width="34.6" height="96.3" fill="#4caf50" fill-opacity="0.3"/>
<rect x="939.2" y="2014.5" width="34.6" height="42.7" fill="#4caf50" fill-opacity="0.3"/>
<rect x="975.0" y="2057.2" width="34.6" height="42.5" fill="#f23645" fill-opacity="0.31"/>
<rect x="1010.9" y="2057.2" width="34.6" height="3.6" fill="#f23645" fill-opacity="0.31"/>
<rect x="1046.7" y="2057.2" width="34.6" height="50.4" fill="#f23645" fill-opacity="0.31"/>
<rect x="1082.6" y="2057.2" width="34.6" height="35.6" fill="#f23645" fill-opacity="0.31"/>
</g>
<line x1="19.0" y1="2057.2" x2="1476.0" y2="2057.2" stroke="#6a6a6a" stroke-width="1" stroke-dasharray="5 6"/>
<text x="31.8" y="1829.0" fill="#f23645" font-size="20.5" text-anchor="start" font-weight="normal" stroke="#f23645" stroke-width="0.35" >1</text>
<text x="1492.0" y="1882.2" fill="#d0d0d0" font-size="20.5" text-anchor="start" font-weight="normal" stroke="#d0d0d0" stroke-width="0.35" >3</text>
<text x="1492.0" y="1972.2" fill="#d0d0d0" font-size="20.5" text-anchor="start" font-weight="normal" stroke="#d0d0d0" stroke-width="0.35" >2</text>
<text x="1492.0" y="2063.2" fill="#d0d0d0" font-size="20.5" text-anchor="start" font-weight="normal" stroke="#d0d0d0" stroke-width="0.35" >1</text>
<path d="M1477.0,2077.0 H1509.0 Q1512.0,2077.0 1512.0,2080.0 V2104.9 Q1512.0,2107.9 1509.0,2107.9 H1477.0 Z" fill="#f23645"/>
<text x="1492.0" y="2098.8" fill="#ffffff" font-size="20.5" text-anchor="start" font-weight="normal" stroke="#ffffff" stroke-width="0.35" >1</text>
<line x1="19.0" y1="2183.0" x2="24.6" y2="2185.0" stroke="#a01848" stroke-width="2.2" stroke-linecap="round"/>
<line x1="24.6" y1="2185.0" x2="60.4" y2="2179.2" stroke="#4a9a4c" stroke-width="2.2" stroke-linecap="round"/>
<line x1="60.4" y1="2179.2" x2="96.2" y2="2219.6" stroke="#a01848" stroke-width="2.2" stroke-linecap="round"/>
<line x1="96.2" y1="2219.6" x2="132.1" y2="2228.2" stroke="#a01848" stroke-width="2.2" stroke-linecap="round"/>
<line x1="132.1" y1="2228.2" x2="167.9" y2="2215.8" stroke="#4a9a4c" stroke-width="2.2" stroke-linecap="round"/>
<line x1="167.9" y1="2215.8" x2="203.8" y2="2230.5" stroke="#a01848" stroke-width="2.2" stroke-linecap="round"/>
<line x1="203.8" y1="2230.5" x2="239.6" y2="2269.5" stroke="#a01848" stroke-width="2.2" stroke-linecap="round"/>
<line x1="239.6" y1="2269.5" x2="275.4" y2="2283.7" stroke="#a01848" stroke-width="2.2" stroke-linecap="round"/>
<line x1="275.4" y1="2283.7" x2="311.3" y2="2288.0" stroke="#a01848" stroke-width="2.2" stroke-linecap="round"/>
<line x1="311.3" y1="2288.0" x2="347.1" y2="2302.7" stroke="#a01848" stroke-width="2.2" stroke-linecap="round"/>
<line x1="347.1" y1="2302.7" x2="383.0" y2="2312.2" stroke="#a01848" stroke-width="2.2" stroke-linecap="round"/>
<line x1="383.0" y1="2312.2" x2="418.8" y2="2322.7" stroke="#a01848" stroke-width="2.2" stroke-linecap="round"/>
<line x1="418.8" y1="2322.7" x2="454.6" y2="2327.4" stroke="#a01848" stroke-width="2.2" stroke-linecap="round"/>
<line x1="454.6" y1="2327.4" x2="490.5" y2="2339.3" stroke="#a01848" stroke-width="2.2" stroke-linecap="round"/>
<line x1="490.5" y1="2339.3" x2="526.3" y2="2358.3" stroke="#a01848" stroke-width="2.2" stroke-linecap="round"/>
<line x1="526.3" y1="2358.3" x2="562.2" y2="2377.8" stroke="#a01848" stroke-width="2.2" stroke-linecap="round"/>
<line x1="562.2" y1="2377.8" x2="598.0" y2="2379.8" stroke="#a01848" stroke-width="2.2" stroke-linecap="round"/>
<line x1="598.0" y1="2379.8" x2="633.8" y2="2384.7" stroke="#a01848" stroke-width="2.2" stroke-linecap="round"/>
<line x1="633.8" y1="2384.7" x2="669.7" y2="2395.6" stroke="#a01848" stroke-width="2.2" stroke-linecap="round"/>
<line x1="669.7" y1="2395.6" x2="705.5" y2="2411.8" stroke="#a01848" stroke-width="2.2" stroke-linecap="round"/>
<line x1="705.5" y1="2411.8" x2="741.4" y2="2436.4" stroke="#a01848" stroke-width="2.2" stroke-linecap="round"/>
<line x1="741.4" y1="2436.4" x2="777.2" y2="2452.2" stroke="#a01848" stroke-width="2.2" stroke-linecap="round"/>
<line x1="777.2" y1="2452.2" x2="813.0" y2="2465.0" stroke="#a01848" stroke-width="2.2" stroke-linecap="round"/>
<line x1="813.0" y1="2465.0" x2="848.9" y2="2462.5" stroke="#4a9a4c" stroke-width="2.2" stroke-linecap="round"/>
<line x1="848.9" y1="2462.5" x2="884.7" y2="2425.1" stroke="#4a9a4c" stroke-width="2.2" stroke-linecap="round"/>
<line x1="884.7" y1="2425.1" x2="920.6" y2="2418.2" stroke="#4a9a4c" stroke-width="2.2" stroke-linecap="round"/>
<line x1="920.6" y1="2418.2" x2="956.4" y2="2399.5" stroke="#4a9a4c" stroke-width="2.2" stroke-linecap="round"/>
<line x1="956.4" y1="2399.5" x2="992.2" y2="2387.2" stroke="#4a9a4c" stroke-width="2.2" stroke-linecap="round"/>
<line x1="992.2" y1="2387.2" x2="1028.1" y2="2388.7" stroke="#a01848" stroke-width="2.2" stroke-linecap="round"/>
<line x1="1028.1" y1="2388.7" x2="1063.9" y2="2383.7" stroke="#4a9a4c" stroke-width="2.2" stroke-linecap="round"/>
<line x1="1063.9" y1="2383.7" x2="1099.8" y2="2375.4" stroke="#4a9a4c" stroke-width="2.2" stroke-linecap="round"/>
<text x="31.8" y="2179.2" fill="#66bb6a" font-size="20.5" text-anchor="start" font-weight="normal" stroke="#66bb6a" stroke-width="0.35" >13,123,013</text>
<text x="1492.0" y="2184.0" fill="#d0d0d0" font-size="20.5" text-anchor="start" font-weight="normal" stroke="#d0d0d0" stroke-width="0.35" >60,000,000</text>
<text x="1492.0" y="2268.3" fill="#d0d0d0" font-size="20.5" text-anchor="start" font-weight="normal" stroke="#d0d0d0" stroke-width="0.35" >40,000,000</text>
<text x="1492.0" y="2353.1" fill="#d0d0d0" font-size="20.5" text-anchor="start" font-weight="normal" stroke="#d0d0d0" stroke-width="0.35" >20,000,000</text>
<text x="1492.0" y="2437.2" fill="#d0d0d0" font-size="20.5" text-anchor="start" font-weight="normal" stroke="#d0d0d0" stroke-width="0.35" >0</text>
<path d="M1477.0,2360.9 H1602.0 Q1605.0,2360.9 1605.0,2363.9 V2388.6 Q1605.0,2391.6 1602.0,2391.6 H1477.0 Z" fill="#66bb6a"/>
<text x="1492.0" y="2382.6" fill="#000000" font-size="20.5" text-anchor="start" font-weight="normal" stroke="#000000" stroke-width="0.35" >13,123,013</text>
<rect x="23.3" y="2593.4" width="2.6" height="121.1" fill="#22b5c5" />
<rect x="59.1" y="2531.6" width="2.6" height="182.9" fill="#22b5c5" />
<rect x="94.9" y="2616.2" width="2.6" height="98.3" fill="#c21717" />
<rect x="130.8" y="2619.0" width="2.6" height="95.5" fill="#22b5c5" />
<rect x="166.6" y="2519.7" width="2.6" height="194.8" fill="#22b5c5" />
<rect x="202.5" y="2673.2" width="2.6" height="41.3" fill="#c21717" />
<rect x="238.3" y="2596.7" width="2.6" height="117.8" fill="#c21717" />
<rect x="274.1" y="2662.7" width="2.6" height="51.8" fill="#22b5c5" />
<rect x="310.0" y="2627.1" width="2.6" height="87.4" fill="#22b5c5" />
<rect x="345.8" y="2671.7" width="2.6" height="42.8" fill="#c21717" />
<rect x="381.7" y="2639.9" width="2.6" height="74.6" fill="#c21717" />
<rect x="417.5" y="2681.2" width="2.6" height="33.3" fill="#22b5c5" />
<rect x="453.3" y="2613.8" width="2.6" height="100.7" fill="#22b5c5" />
<rect x="489.2" y="2663.7" width="2.6" height="50.8" fill="#c21717" />
<rect x="525.0" y="2639.9" width="2.6" height="74.6" fill="#c21717" />
<rect x="560.9" y="2624.0" width="2.6" height="90.5" fill="#c21717" />
<rect x="596.7" y="2665.8" width="2.6" height="48.7" fill="#22b5c5" />
<rect x="632.5" y="2633.8" width="2.6" height="80.7" fill="#22b5c5" />
<rect x="668.4" y="2695.3" width="2.6" height="19.2" fill="#c21717" />
<rect x="704.2" y="2690.4" width="2.6" height="24.1" fill="#22b5c5" />
<rect x="740.1" y="2670.7" width="2.6" height="43.8" fill="#c21717" />
<rect x="775.9" y="2692.9" width="2.6" height="21.6" fill="#22b5c5" />
<rect x="811.7" y="2646.1" width="2.6" height="68.4" fill="#c21717" />
<rect x="847.6" y="2690.4" width="2.6" height="24.1" fill="#22b5c5" />
<rect x="883.4" y="2567.4" width="2.6" height="147.1" fill="#22b5c5" />
<rect x="919.3" y="2625.0" width="2.6" height="89.5" fill="#c21717" />
<rect x="955.1" y="2551.1" width="2.6" height="163.4" fill="#c21717" />
<rect x="990.9" y="2690.0" width="2.6" height="24.5" fill="#22b5c5" />
<rect x="1026.8" y="2663.4" width="2.6" height="51.1" fill="#c21717" />
<rect x="1062.6" y="2638.7" width="2.6" height="75.8" fill="#c21717" />
<rect x="1098.5" y="2680.6" width="2.6" height="33.9" fill="#22b5c5" />
<text x="96.2" y="2555.3" fill="#ff0000" font-size="24" text-anchor="middle" font-weight="normal" stroke="#ff0000" stroke-width="0.35" textLength="11.5" lengthAdjust="spacingAndGlyphs">S</text>
<text x="203.8" y="2555.3" fill="#ff0000" font-size="24" text-anchor="middle" font-weight="normal" stroke="#ff0000" stroke-width="0.35" textLength="11.5" lengthAdjust="spacingAndGlyphs">S</text>
<text x="347.1" y="2555.3" fill="#ff0000" font-size="24" text-anchor="middle" font-weight="normal" stroke="#ff0000" stroke-width="0.35" textLength="11.5" lengthAdjust="spacingAndGlyphs">S</text>
<text x="490.5" y="2555.3" fill="#ff0000" font-size="24" text-anchor="middle" font-weight="normal" stroke="#ff0000" stroke-width="0.35" textLength="11.5" lengthAdjust="spacingAndGlyphs">S</text>
<text x="669.7" y="2555.3" fill="#ff0000" font-size="24" text-anchor="middle" font-weight="normal" stroke="#ff0000" stroke-width="0.35" textLength="11.5" lengthAdjust="spacingAndGlyphs">S</text>
<text x="741.4" y="2555.3" fill="#ff0000" font-size="24" text-anchor="middle" font-weight="normal" stroke="#ff0000" stroke-width="0.35" textLength="11.5" lengthAdjust="spacingAndGlyphs">S</text>
<text x="813.0" y="2555.3" fill="#ff0000" font-size="24" text-anchor="middle" font-weight="normal" stroke="#ff0000" stroke-width="0.35" textLength="11.5" lengthAdjust="spacingAndGlyphs">S</text>
<text x="920.6" y="2555.3" fill="#ff0000" font-size="24" text-anchor="middle" font-weight="normal" stroke="#ff0000" stroke-width="0.35" textLength="11.5" lengthAdjust="spacingAndGlyphs">S</text>
<text x="1028.1" y="2555.3" fill="#ff0000" font-size="24" text-anchor="middle" font-weight="normal" stroke="#ff0000" stroke-width="0.35" textLength="11.5" lengthAdjust="spacingAndGlyphs">S</text>
<text x="132.1" y="2697.9" fill="#138a13" font-size="23" text-anchor="middle" font-weight="normal" stroke="#138a13" stroke-width="0.35" textLength="12.5" lengthAdjust="spacingAndGlyphs">B</text>
<text x="275.4" y="2697.9" fill="#138a13" font-size="23" text-anchor="middle" font-weight="normal" stroke="#138a13" stroke-width="0.35" textLength="12.5" lengthAdjust="spacingAndGlyphs">B</text>
<text x="418.8" y="2697.9" fill="#138a13" font-size="23" text-anchor="middle" font-weight="normal" stroke="#138a13" stroke-width="0.35" textLength="12.5" lengthAdjust="spacingAndGlyphs">B</text>
<text x="598.0" y="2697.9" fill="#138a13" font-size="23" text-anchor="middle" font-weight="normal" stroke="#138a13" stroke-width="0.35" textLength="12.5" lengthAdjust="spacingAndGlyphs">B</text>
<text x="705.5" y="2697.9" fill="#138a13" font-size="23" text-anchor="middle" font-weight="normal" stroke="#138a13" stroke-width="0.35" textLength="12.5" lengthAdjust="spacingAndGlyphs">B</text>
<text x="777.2" y="2697.9" fill="#138a13" font-size="23" text-anchor="middle" font-weight="normal" stroke="#138a13" stroke-width="0.35" textLength="12.5" lengthAdjust="spacingAndGlyphs">B</text>
<text x="848.9" y="2697.9" fill="#138a13" font-size="23" text-anchor="middle" font-weight="normal" stroke="#138a13" stroke-width="0.35" textLength="12.5" lengthAdjust="spacingAndGlyphs">B</text>
<text x="992.2" y="2697.9" fill="#138a13" font-size="23" text-anchor="middle" font-weight="normal" stroke="#138a13" stroke-width="0.35" textLength="12.5" lengthAdjust="spacingAndGlyphs">B</text>
<text x="1099.8" y="2697.9" fill="#138a13" font-size="23" text-anchor="middle" font-weight="normal" stroke="#138a13" stroke-width="0.35" textLength="12.5" lengthAdjust="spacingAndGlyphs">B</text>
<text x="31.8" y="2529.2" fill="#00ffff" font-size="20.5" text-anchor="start" font-weight="normal" stroke="#00ffff" stroke-width="0.35" >27,149,700</text>
<text x="148.0" y="2529.2" fill="#138a13" font-size="20.5" text-anchor="start" font-weight="normal" stroke="#138a13" stroke-width="0.35" >1</text>
<text x="171.5" y="2529.2" fill="#ff0000" font-size="20.5" text-anchor="start" font-weight="normal" stroke="#ff0000" stroke-width="0.35" >0</text>
<text x="1492.0" y="2536.1" fill="#d0d0d0" font-size="20.5" text-anchor="start" font-weight="normal" stroke="#d0d0d0" stroke-width="0.35" >150,000,000</text>
<text x="1492.0" y="2597.0" fill="#d0d0d0" font-size="20.5" text-anchor="start" font-weight="normal" stroke="#d0d0d0" stroke-width="0.35" >100,000,000</text>
<text x="1492.0" y="2659.0" fill="#d0d0d0" font-size="20.5" text-anchor="start" font-weight="normal" stroke="#d0d0d0" stroke-width="0.35" >50,000,000</text>
<text x="1492.0" y="2720.4" fill="#d0d0d0" font-size="20.5" text-anchor="start" font-weight="normal" stroke="#d0d0d0" stroke-width="0.35" >0</text>
<path d="M1477.0,2665.9 H1602.0 Q1605.0,2665.9 1605.0,2668.9 V2693.9 Q1605.0,2696.9 1602.0,2696.9 H1477.0 Z" fill="#00ffff"/>
<text x="1492.0" y="2687.7" fill="#000000" font-size="20.5" text-anchor="start" font-weight="normal" stroke="#000000" stroke-width="0.35" >27,149,700</text>
<defs><clipPath id="cp8"><rect x="19" y="2736" width="1457" height="459"/></clipPath></defs><g clip-path="url(#cp8)">
<rect x="7.4" y="2974.4" width="34.6" height="13.3" fill="#ff5252" />
<rect x="43.2" y="2974.4" width="34.6" height="8.1" fill="#ffcdd2" />
<rect x="79.0" y="2974.4" width="34.6" height="54.6" fill="#ff5252" />
<rect x="114.9" y="2974.4" width="34.6" height="29.5" fill="#ffcdd2" />
<rect x="150.7" y="2974.4" width="34.6" height="6.2" fill="#ffcdd2" />
<rect x="186.6" y="2974.4" width="34.6" height="17.1" fill="#ff5252" />
<rect x="222.4" y="2974.4" width="34.6" height="48.5" fill="#ff5252" />
<rect x="258.2" y="2964.0" width="34.6" height="10.4" fill="#26a69a" />
<rect x="294.1" y="2937.9" width="34.6" height="36.5" fill="#26a69a" />
<rect x="329.9" y="2953.5" width="34.6" height="20.9" fill="#b2dfdb" />
<rect x="365.8" y="2967.8" width="34.6" height="6.6" fill="#b2dfdb" />
<rect x="401.6" y="2966.8" width="34.6" height="7.6" fill="#26a69a" />
<rect x="437.4" y="2942.6" width="34.6" height="31.8" fill="#26a69a" />
<rect x="473.3" y="2964.0" width="34.6" height="10.4" fill="#b2dfdb" />
<rect x="509.1" y="2974.4" width="34.6" height="6.2" fill="#ff5252" />
<rect x="545.0" y="2974.4" width="34.6" height="11.1" fill="#ff5252" />
<rect x="580.8" y="2959.0" width="34.6" height="15.4" fill="#26a69a" />
<rect x="616.6" y="2961.9" width="34.6" height="12.5" fill="#b2dfdb" />
<rect x="652.5" y="2974.4" width="34.6" height="14.1" fill="#ff5252" />
<rect x="688.3" y="2974.4" width="34.6" height="10.2" fill="#ffcdd2" />
<rect x="724.2" y="2974.4" width="34.6" height="15.6" fill="#ff5252" />
<rect x="760.0" y="2974.4" width="34.6" height="7.2" fill="#ffcdd2" />
<rect x="795.8" y="2974.4" width="34.6" height="21.5" fill="#ff5252" />
<rect x="831.7" y="2970.3" width="34.6" height="4.1" fill="#26a69a" />
<rect x="867.5" y="2914.2" width="34.6" height="60.2" fill="#26a69a" />
<rect x="903.4" y="2970.3" width="34.6" height="4.1" fill="#b2dfdb" />
<rect x="939.2" y="2974.4" width="34.6" height="17.6" fill="#ff5252" />
<rect x="975.0" y="2974.4" width="34.6" height="12.6" fill="#ffcdd2" />
<rect x="1010.9" y="2974.4" width="34.6" height="24.9" fill="#ff5252" />
<rect x="1046.7" y="2974.4" width="34.6" height="20.0" fill="#ffcdd2" />
<rect x="1082.6" y="2951.6" width="34.6" height="22.8" fill="#26a69a" />
<line x1="19.0" y1="2974.4" x2="1476.0" y2="2974.4" stroke="#6a6a6a" stroke-width="1" stroke-dasharray="5 6"/>
<polyline points="19.0,2777.8 24.6,2782.5 60.4,2798.7 96.2,2907.0 132.1,2964.9 167.9,2978.2 203.8,3010.5 239.6,3107.4 275.4,3088.4 311.3,3017.2 347.1,2975.8 383.0,2963.0 418.8,2949.7 454.6,2888.0 490.5,2867.6 526.3,2879.4 562.2,2901.3 598.0,2871.4 633.8,2848.2 669.7,2876.3 705.5,2897.0 741.4,2928.0 777.2,2940.3 813.0,2983.1 848.9,2976.2 884.7,2856.6 920.6,2848.2 956.4,2881.2 992.2,2905.8 1028.1,2955.0 1063.9,2993.0 1099.8,2948.6" fill="none" stroke="#ff6d00" stroke-width="2.4" stroke-linejoin="round" />
<polyline points="19.0,2792.0 24.6,2795.4 60.4,2806.3 96.2,2961.6 132.1,2993.4 167.9,2982.0 203.8,3028.1 239.6,3156.3 275.4,3078.0 311.3,2980.6 347.1,2955.9 383.0,2957.3 418.8,2942.6 454.6,2857.1 490.5,2857.1 526.3,2885.6 562.2,2912.7 598.0,2857.6 633.8,2836.9 669.7,2891.0 705.5,2906.8 741.4,2942.7 777.2,2947.7 813.0,3004.3 848.9,2974.7 884.7,2797.5 920.6,2845.3 956.4,2898.4 992.2,2917.1 1028.1,2977.2 1063.9,3011.6 1099.8,2925.5" fill="none" stroke="#2962ff" stroke-width="2.4" stroke-linejoin="round" />
</g>
<text x="31.8" y="2769.2" fill="#26a69a" font-size="20.5" text-anchor="start" font-weight="normal" stroke="#26a69a" stroke-width="0.35" >37</text>
<text x="66.5" y="2769.2" fill="#2962ff" font-size="20.5" text-anchor="start" font-weight="normal" stroke="#2962ff" stroke-width="0.35" >79</text>
<text x="101.2" y="2769.2" fill="#ff6d00" font-size="20.5" text-anchor="start" font-weight="normal" stroke="#ff6d00" stroke-width="0.35" >42</text>
<text x="1492.0" y="2799.0" fill="#d0d0d0" font-size="20.5" text-anchor="start" font-weight="normal" stroke="#d0d0d0" stroke-width="0.35" >300</text>
<text x="1492.0" y="2860.2" fill="#d0d0d0" font-size="20.5" text-anchor="start" font-weight="normal" stroke="#d0d0d0" stroke-width="0.35" >200</text>
<text x="1492.0" y="2920.3" fill="#d0d0d0" font-size="20.5" text-anchor="start" font-weight="normal" stroke="#d0d0d0" stroke-width="0.35" >100</text>
<text x="1492.0" y="2980.4" fill="#d0d0d0" font-size="20.5" text-anchor="start" font-weight="normal" stroke="#d0d0d0" stroke-width="0.35" >0</text>
<text x="1492.0" y="3040.2" fill="#d0d0d0" font-size="20.5" text-anchor="start" font-weight="normal" stroke="#d0d0d0" stroke-width="0.35" >−100</text>
<text x="1492.0" y="3100.3" fill="#d0d0d0" font-size="20.5" text-anchor="start" font-weight="normal" stroke="#d0d0d0" stroke-width="0.35" >−200</text>
<text x="1492.0" y="3160.1" fill="#d0d0d0" font-size="20.5" text-anchor="start" font-weight="normal" stroke="#d0d0d0" stroke-width="0.35" >−300</text>
<path d="M1477.0,2877.0 H1520.0 Q1523.0,2877.0 1523.0,2880.0 V2904.3 Q1523.0,2907.3 1520.0,2907.3 H1477.0 Z" fill="#2962ff"/>
<text x="1492.0" y="2898.5" fill="#ffffff" font-size="20.5" text-anchor="start" font-weight="normal" stroke="#ffffff" stroke-width="0.35" >79</text>
<path d="M1477.0,2907.3 H1520.0 Q1523.0,2907.3 1523.0,2910.3 V2934.8 Q1523.0,2937.8 1520.0,2937.8 H1477.0 Z" fill="#ff6d00"/>
<text x="1492.0" y="2928.9" fill="#ffffff" font-size="20.5" text-anchor="start" font-weight="normal" stroke="#ffffff" stroke-width="0.35" >42</text>
<path d="M1477.0,2937.8 H1520.0 Q1523.0,2937.8 1523.0,2940.8 V2964.7 Q1523.0,2967.7 1520.0,2967.7 H1477.0 Z" fill="#26a69a"/>
<text x="1492.0" y="2959.1" fill="#ffffff" font-size="20.5" text-anchor="start" font-weight="normal" stroke="#ffffff" stroke-width="0.35" >37</text>
<defs><clipPath id="cp9"><rect x="19" y="3196" width="1457" height="346"/></clipPath></defs><g clip-path="url(#cp9)">
<polygon points="19.0,3234.0 60.4,3233.3 347.1,3233.3 633.8,3237.0 705.5,3233.3 777.2,3230.4 848.9,3233.5 884.7,3231.5 1099.8,3230.4 1099.8,3464.7 19.0,3464.7" fill="#ffb800" fill-opacity="0.2"/>
<polyline points="19.0,3234.0 60.4,3233.3 347.1,3233.3 633.8,3237.0 705.5,3233.3 777.2,3230.4 848.9,3233.5 884.7,3231.5 1099.8,3230.4" fill="none" stroke="#7a5c10" stroke-width="1.5" stroke-linejoin="round" />
<polygon points="19.0,3235.3 60.4,3233.3 60.4,3464.7 19.0,3464.7" fill="#ffb800" />
<polygon points="705.7,3233.3 777.6,3230.4 777.6,3464.7 705.7,3464.7" fill="#ffb800" />
<line x1="19.0" y1="3464.7" x2="1476.0" y2="3464.7" stroke="#6a6a6a" stroke-width="1" stroke-dasharray="5 6"/>
<line x1="19.0" y1="3513.4" x2="1099.8" y2="3513.4" stroke="#089981" stroke-width="2" />
</g>
<path d="M126.1,3233.3 H138.1 M132.1,3227.3 V3239.3" stroke="#0026ff" stroke-width="4"/>
<path d="M878.7,3231.8 H890.7 M884.7,3225.8 V3237.8" stroke="#0026ff" stroke-width="4"/>
<text x="32.5" y="3229.4" fill="#ffb800" font-size="20.5" text-anchor="start" font-weight="normal" stroke="#ffb800" stroke-width="0.35" >1,158,924,456</text>
<text x="184.6" y="3229.4" fill="#9a9a9a" font-size="20.5" text-anchor="middle" font-weight="normal" stroke="#9a9a9a" stroke-width="0.35" >Ø</text>
<text x="210.7" y="3229.4" fill="#9a9a9a" font-size="20.5" text-anchor="middle" font-weight="normal" stroke="#9a9a9a" stroke-width="0.35" >Ø</text>
<text x="231.3" y="3229.4" fill="#ffb800" font-size="20.5" text-anchor="start" font-weight="normal" stroke="#ffb800" stroke-width="0.35" >1,166,413,269</text>
<text x="377.5" y="3229.4" fill="#1de9b6" font-size="20.5" text-anchor="start" font-weight="normal" stroke="#1de9b6" stroke-width="0.35" >−240,555,871</text>
<text x="521.8" y="3229.4" fill="#9a9a9a" font-size="20.5" text-anchor="middle" font-weight="normal" stroke="#9a9a9a" stroke-width="0.35" >Ø</text>
<text x="547.8" y="3229.4" fill="#9a9a9a" font-size="20.5" text-anchor="middle" font-weight="normal" stroke="#9a9a9a" stroke-width="0.35" >Ø</text>
<text x="574.8" y="3229.4" fill="#9a9a9a" font-size="20.5" text-anchor="middle" font-weight="normal" stroke="#9a9a9a" stroke-width="0.35" >Ø</text>
<text x="601.8" y="3229.4" fill="#9a9a9a" font-size="20.5" text-anchor="middle" font-weight="normal" stroke="#9a9a9a" stroke-width="0.35" >Ø</text>
<text x="1492.0" y="3310.2" fill="#d0d0d0" font-size="20.5" text-anchor="start" font-weight="normal" stroke="#d0d0d0" stroke-width="0.35" >800,000,000</text>
<text x="1492.0" y="3391.3" fill="#d0d0d0" font-size="20.5" text-anchor="start" font-weight="normal" stroke="#d0d0d0" stroke-width="0.35" >400,000,000</text>
<defs><clipPath id="cp9s"><rect x="1476" y="3196" width="170" height="346"/></clipPath></defs><g clip-path="url(#cp9s)">
<path d="M1477.0,3186.0 H1632.0 Q1635.0,3186.0 1635.0,3189.0 V3214.7 Q1635.0,3217.7 1632.0,3217.7 H1477.0 Z" fill="#ffb800"/>
<text x="1492.0" y="3208.2" fill="#000000" font-size="20.5" text-anchor="start" font-weight="normal" stroke="#000000" stroke-width="0.35" >1,166,413,269</text>
</g>
<path d="M1477.0,3217.7 H1632.0 Q1635.0,3217.7 1635.0,3220.7 V3244.6 Q1635.0,3247.6 1632.0,3247.6 H1477.0 Z" fill="#ffb800"/>
<text x="1492.0" y="3238.9" fill="#000000" font-size="20.5" text-anchor="start" font-weight="normal" stroke="#000000" stroke-width="0.35" >1,158,924,456</text>
<path d="M1477.0,3313.0 H1612.0 Q1615.0,3313.0 1615.0,3316.0 V3340.5 Q1615.0,3343.5 1612.0,3343.5 H1477.0 Z" fill="#ff00c8"/>
<text x="1492.0" y="3334.6" fill="#ffffff" font-size="20.5" text-anchor="start" font-weight="normal" stroke="#ffffff" stroke-width="0.35" >680,583,169</text>
<path d="M1477.0,3450.0 H1590.0 Q1593.0,3450.0 1593.0,3453.0 V3476.6 Q1593.0,3479.6 1590.0,3479.6 H1477.0 Z" fill="#ffb800"/>
<text x="1492.0" y="3471.1" fill="#000000" font-size="20.5" text-anchor="start" font-weight="normal" stroke="#000000" stroke-width="0.35" >1,079,723</text>
<path d="M1477.0,3479.6 H1612.0 Q1615.0,3479.6 1615.0,3482.6 V3507.3 Q1615.0,3510.3 1612.0,3510.3 H1477.0 Z" fill="#0040ff"/>
<text x="1492.0" y="3501.2" fill="#ffffff" font-size="20.5" text-anchor="start" font-weight="normal" stroke="#ffffff" stroke-width="0.35" >−45,419,335</text>
<path d="M1477.0,3510.3 H1623.0 Q1626.0,3510.3 1626.0,3513.3 V3536.6 Q1626.0,3539.6 1623.0,3539.6 H1477.0 Z" fill="#00ffbb"/>
<text x="1492.0" y="3531.2" fill="#000000" font-size="20.5" text-anchor="start" font-weight="normal" stroke="#000000" stroke-width="0.35" >−240,555,871</text>
<text x="60.4" y="3575.3" fill="#d0d0d0" font-size="20.5" text-anchor="middle" font-weight="normal" stroke="#d0d0d0" stroke-width="0.35" >26</text>
<text x="239.6" y="3575.3" fill="#d0d0d0" font-size="20.5" text-anchor="middle" font-weight="bold" stroke="#d0d0d0" stroke-width="0.35" >Feb</text>
<text x="347.1" y="3575.3" fill="#d0d0d0" font-size="20.5" text-anchor="middle" font-weight="normal" stroke="#d0d0d0" stroke-width="0.35" >5</text>
<text x="454.6" y="3575.3" fill="#d0d0d0" font-size="20.5" text-anchor="middle" font-weight="normal" stroke="#d0d0d0" stroke-width="0.35" >10</text>
<text x="562.2" y="3575.3" fill="#d0d0d0" font-size="20.5" text-anchor="middle" font-weight="normal" stroke="#d0d0d0" stroke-width="0.35" >13</text>
<text x="669.7" y="3575.3" fill="#d0d0d0" font-size="20.5" text-anchor="middle" font-weight="normal" stroke="#d0d0d0" stroke-width="0.35" >20</text>
<text x="777.2" y="3575.3" fill="#d0d0d0" font-size="20.5" text-anchor="middle" font-weight="normal" stroke="#d0d0d0" stroke-width="0.35" >25</text>
<text x="884.7" y="3575.3" fill="#d0d0d0" font-size="20.5" text-anchor="middle" font-weight="bold" stroke="#d0d0d0" stroke-width="0.35" >Mar</text>
<text x="992.2" y="3575.3" fill="#d0d0d0" font-size="20.5" text-anchor="middle" font-weight="normal" stroke="#d0d0d0" stroke-width="0.35" >5</text>
<text x="1099.8" y="3575.3" fill="#d0d0d0" font-size="20.5" text-anchor="middle" font-weight="normal" stroke="#d0d0d0" stroke-width="0.35" >10</text>
<text x="1207.3" y="3575.3" fill="#d0d0d0" font-size="20.5" text-anchor="middle" font-weight="normal" stroke="#d0d0d0" stroke-width="0.35" >13</text>
<text x="1314.8" y="3575.3" fill="#d0d0d0" font-size="20.5" text-anchor="middle" font-weight="normal" stroke="#d0d0d0" stroke-width="0.35" >25</text>
<text x="1422.3" y="3575.3" fill="#d0d0d0" font-size="20.5" text-anchor="middle" font-weight="normal" stroke="#d0d0d0" stroke-width="0.35" >30</text>
<path d="M21.4,3630.7 H42.2 V3657 H30.8 V3641.3 H21.4 Z" fill="#d9d9d9"/>
<circle cx="51.9" cy="3635.6" r="4.9" fill="#d9d9d9"/>
<path d="M58.4,3630.7 H73.5 L61.3,3657 H51.3 Z" fill="#d9d9d9"/>
<text x="86.9" y="3657.0" fill="#d9d9d9" font-size="35.5" text-anchor="start" font-weight="bold" textLength="211" lengthAdjust="spacingAndGlyphs">TradingView</text></svg></body></html>
